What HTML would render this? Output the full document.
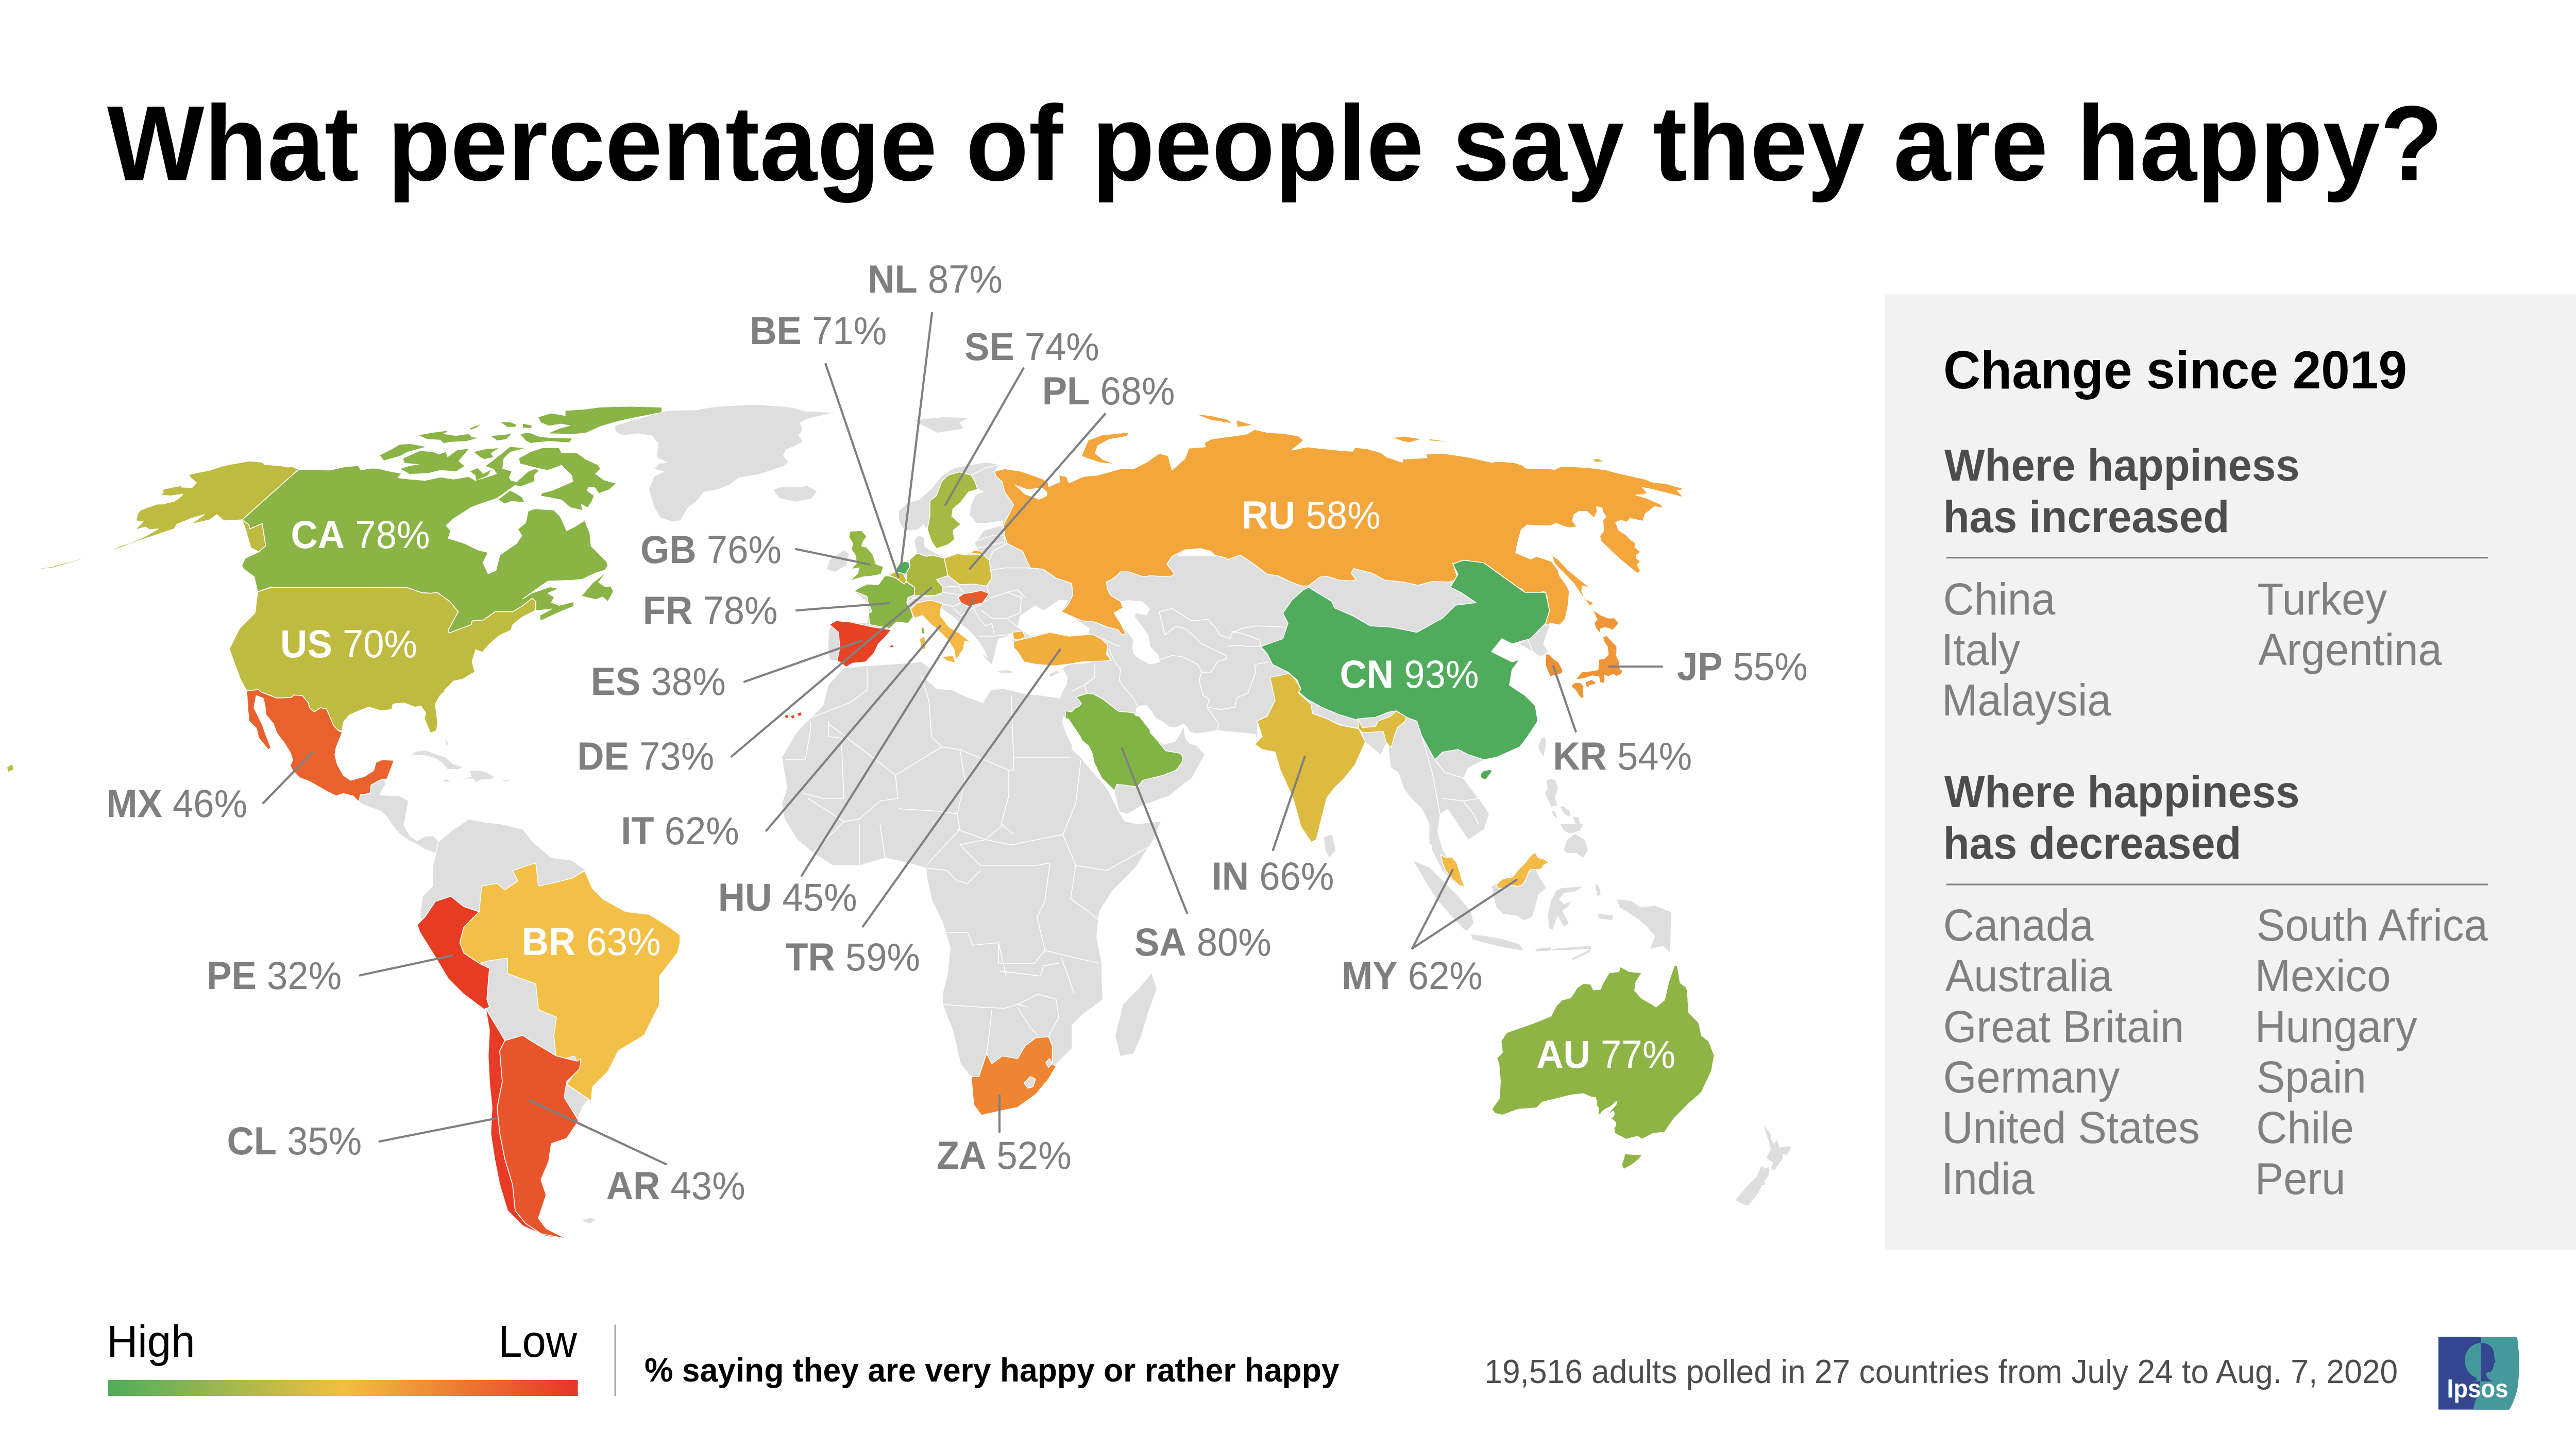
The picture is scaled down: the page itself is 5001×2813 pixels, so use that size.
<!DOCTYPE html>
<html><head><meta charset="utf-8"><style>
html,body{margin:0;padding:0;background:#fff;}
svg{display:block;font-family:"Liberation Sans",sans-serif;}
</style></head><body>
<svg width="5001" height="2813" viewBox="0 0 5001 2813" xmlns="http://www.w3.org/2000/svg">
<rect x="3659" y="571.5" width="1342" height="1855.5" fill="#f2f2f2"/>
<g id="map"><path d="M1193.8 826.2 L1225.0 817.5 L1255.0 808.8 L1295.0 797.5 L1350.0 796.2 L1387.5 790.0 L1425.0 787.5 L1475.0 786.2 L1537.5 791.2 L1562.5 798.8 L1617.5 801.2 L1567.5 812.5 L1552.5 820.0 L1557.5 835.0 L1550.0 845.0 L1557.5 857.5 L1545.0 865.0 L1525.0 872.5 L1520.0 885.0 L1530.0 897.5 L1520.0 905.0 L1475.0 920.0 L1432.5 927.5 L1417.5 940.0 L1392.5 950.0 L1365.0 955.0 L1352.5 972.5 L1335.0 985.0 L1320.0 1010.0 L1305.0 1012.5 L1282.5 1005.0 L1270.0 985.0 L1260.0 950.0 L1270.0 925.0 L1290.0 915.0 L1270.0 910.0 L1280.0 900.0 L1297.5 898.8 L1275.0 887.5 L1277.5 860.0 L1265.0 845.0 L1237.5 841.2 L1207.5 845.0 L1195.0 837.5Z" fill="#dedede"/>
<path d="M1502.5 950.0 L1520.0 945.0 L1545.0 946.2 L1567.5 943.8 L1585.0 953.8 L1575.0 967.5 L1545.0 973.8 L1515.0 967.5 L1505.0 957.5Z" fill="#dedede"/>
<path d="M1605.0 1105.0 L1610.0 1087.5 L1625.0 1077.5 L1637.5 1068.8 L1647.5 1075.0 L1642.5 1097.5 L1620.0 1110.0Z" fill="#dedede"/>
<path d="M1610.0 1220.0 L1622.5 1205.0 L1650.0 1207.5 L1682.5 1210.0 L1686.2 1190.0 L1685.0 1170.0 L1657.5 1147.5 L1683.8 1133.8 L1705.0 1135.0 L1717.5 1117.5 L1736.2 1110.0 L1745.0 1095.0 L1755.0 1090.0 L1765.0 1087.5 L1780.0 1073.8 L1775.0 1050.0 L1782.5 1040.0 L1792.5 1042.5 L1795.0 1062.5 L1832.5 1082.5 L1882.5 1073.8 L1900.0 1070.0 L1892.5 1055.0 L1910.0 1030.0 L1947.5 1020.0 L1945.0 1005.0 L1967.5 980.0 L2025.0 1005.0 L2075.0 1030.0 L2344.0 1030.0 L2244.0 1115.0 L2182.5 1110.0 L2162.5 1115.0 L2147.5 1130.0 L2147.5 1150.0 L2162.5 1160.0 L2180.0 1177.5 L2165.0 1187.5 L2170.0 1207.5 L2182.5 1232.5 L2150.0 1252.5 L2147.5 1270.0 L2157.5 1282.5 L2100.0 1285.0 L2070.0 1290.0 L2045.0 1292.5 L2012.5 1290.0 L1987.5 1285.0 L1975.0 1265.0 L1967.5 1257.5 L1965.0 1245.0 L1967.5 1227.5 L1955.0 1235.0 L1937.5 1240.0 L1932.5 1260.0 L1925.0 1290.0 L1912.5 1277.5 L1900.0 1260.0 L1887.5 1242.5 L1870.0 1225.0 L1850.0 1207.5 L1832.5 1187.5 L1825.0 1175.0 L1805.0 1165.0 L1780.0 1170.0 L1767.5 1182.5 L1772.5 1197.5 L1762.5 1210.0 L1740.0 1207.5 L1727.5 1220.0 L1730.0 1222.5 L1720.0 1235.0 L1705.0 1250.0 L1695.0 1270.0 L1680.0 1285.0 L1655.0 1287.5 L1642.5 1295.0 L1625.0 1282.5 L1610.0 1280.0 L1607.5 1250.0Z" fill="#dedede"/>
<path d="M1745.0 992.5 L1760.0 977.5 L1785.0 970.0 L1807.5 950.0 L1827.5 925.0 L1852.5 908.8 L1885.0 902.5 L1915.0 897.5 L1940.0 902.5 L1931.2 912.5 L1933.8 925.0 L1945.0 935.0 L1950.0 955.0 L1965.0 977.5 L1970.0 982.5 L1950.0 1002.5 L1947.5 1010.0 L1935.0 1012.5 L1915.0 1015.0 L1895.0 1015.0 L1882.5 1000.0 L1885.0 980.0 L1895.0 960.0 L1910.0 955.0 L1897.5 947.5 L1880.0 955.0 L1865.0 975.0 L1850.0 987.5 L1847.5 1002.5 L1865.0 1017.5 L1850.0 1030.0 L1852.5 1047.5 L1840.0 1057.5 L1830.0 1062.5 L1817.5 1065.0 L1807.5 1050.0 L1800.0 1027.5 L1792.5 1017.5 L1782.5 1027.5 L1765.0 1030.0 L1752.5 1025.0 L1745.0 1010.0Z" fill="#dedede"/>
<path d="M1775.0 815.0 L1805.0 812.5 L1830.0 810.0 L1880.0 811.2 L1862.5 820.0 L1870.0 832.5 L1850.0 835.0 L1820.0 840.0 L1800.0 830.0 L1785.0 822.5Z" fill="#dedede"/>
<path d="M2000.0 1080.0 L2644.0 1080.0 L2644.0 1412.5 L2612.5 1410.0 L2575.0 1395.0 L2547.5 1385.0 L2475.0 1380.0 L2450.0 1397.5 L2440.0 1405.0 L2440.0 1442.2 L2438.0 1425.0 L2363.0 1417.5 L2322.0 1423.8 L2308.8 1420.0 L2303.8 1410.0 L2297.5 1405.0 L2281.2 1412.5 L2268.8 1410.0 L2256.2 1400.0 L2243.8 1395.0 L2235.0 1380.0 L2225.0 1368.0 L2212.5 1370.0 L2205.0 1375.0 L2203.0 1395.0 L2171.2 1381.2 L2141.2 1357.5 L2122.5 1347.5 L2110.0 1346.2 L2088.8 1353.0 L2098.8 1365.0 L2095.0 1371.2 L2087.5 1373.8 L2080.0 1381.9 L2068.8 1380.0 L2067.5 1393.8 L2060.5 1385.0 L2058.8 1356.2 L2057.5 1355.0 L2062.5 1342.5 L2070.0 1330.0 L2072.5 1315.0 L2062.5 1297.5 L2075.0 1290.0 L2110.0 1287.5 L2140.0 1280.0 L2157.5 1282.5 L2147.5 1260.0 L2150.0 1252.5 L2140.0 1237.5 L2117.5 1227.5 L2115.0 1220.0 L2100.0 1205.0 L2082.5 1197.5 L2060.0 1187.5 L2072.5 1175.0 L2082.5 1155.0 L2080.0 1132.5 L2050.0 1122.5 L2025.0 1105.0 L2000.0 1102.5Z" fill="#dedede"/>
<path d="M2400.0 1050.0 L2900.0 1050.0 L2900.0 1190.0 L2835.0 1180.0 L2800.0 1210.0 L2750.0 1250.0 L2750.0 1400.0 L2720.0 1405.0 L2700.0 1420.0 L2680.0 1465.0 L2650.0 1440.0 L2635.0 1400.0 L2580.0 1395.0 L2545.0 1370.0 L2400.0 1350.0Z" fill="#dedede"/>
<path d="M2700.0 1420.0 L2720.0 1405.0 L2750.0 1400.0 L2760.0 1430.0 L2785.0 1475.0 L2800.0 1460.0 L2830.0 1455.0 L2850.0 1465.0 L2880.0 1475.0 L2850.0 1490.0 L2840.0 1510.0 L2870.0 1550.0 L2890.0 1580.0 L2880.0 1610.0 L2850.0 1630.0 L2830.0 1600.0 L2810.0 1570.0 L2795.0 1580.0 L2790.0 1615.0 L2800.0 1650.0 L2820.0 1680.0 L2840.0 1715.0 L2825.0 1715.0 L2800.0 1690.0 L2780.0 1650.0 L2775.0 1600.0 L2760.0 1570.0 L2740.0 1550.0 L2725.0 1530.0 L2715.0 1500.0 L2700.0 1490.0 L2695.0 1450.0Z" fill="#dedede"/>
<path d="M2067.5 1393.8 L2068.8 1380.0 L2080.0 1381.9 L2087.5 1373.8 L2095.0 1371.2 L2098.8 1365.0 L2088.8 1353.0 L2110.0 1346.2 L2122.5 1347.5 L2141.2 1357.5 L2171.2 1381.2 L2190.0 1382.5 L2211.2 1390.0 L2218.8 1400.0 L2232.5 1417.5 L2240.0 1430.0 L2247.5 1438.8 L2258.0 1446.0 L2281.2 1440.0 L2291.2 1425.0 L2297.5 1412.5 L2300.0 1432.5 L2308.8 1443.8 L2322.0 1447.5 L2338.0 1465.0 L2313.0 1510.0 L2268.0 1545.0 L2213.0 1565.0 L2188.0 1580.0 L2173.0 1575.0 L2163.0 1535.0 L2138.0 1510.0 L2123.8 1481.0 L2120.0 1462.5 L2112.5 1447.5 L2100.0 1437.5 L2097.5 1431.2 L2073.8 1396.2Z" fill="#dedede"/>
<path d="M1638.0 1297.5 L1688.0 1292.5 L1728.0 1290.0 L1768.0 1287.5 L1788.0 1285.0 L1808.0 1300.0 L1798.0 1320.0 L1818.0 1337.5 L1848.0 1340.0 L1868.0 1350.0 L1908.0 1365.0 L1923.0 1340.0 L1948.0 1337.5 L1988.0 1347.5 L2018.0 1350.0 L2058.8 1356.2 L2066.0 1361.0 L2063.8 1395.0 L2061.2 1400.0 L2068.8 1423.8 L2075.0 1436.2 L2080.0 1445.0 L2080.0 1455.0 L2095.0 1467.5 L2113.0 1490.0 L2148.0 1530.0 L2168.0 1570.0 L2183.0 1595.0 L2208.0 1600.0 L2253.0 1595.0 L2238.0 1630.0 L2203.0 1685.0 L2158.0 1730.0 L2133.0 1770.0 L2128.0 1820.0 L2138.0 1870.0 L2138.0 1900.0 L2140.0 1940.0 L2100.0 1970.0 L2080.0 1990.0 L2080.0 2035.0 L2050.0 2065.0 L2035.0 2090.0 L2000.0 2135.0 L1950.0 2155.0 L1905.0 2165.0 L1890.0 2145.0 L1885.0 2090.0 L1865.0 2065.0 L1850.0 2000.0 L1830.0 1950.0 L1830.0 1930.0 L1840.0 1890.0 L1845.0 1840.0 L1830.0 1790.0 L1810.0 1750.0 L1800.0 1705.0 L1798.0 1685.0 L1763.0 1675.0 L1718.0 1665.0 L1668.0 1680.0 L1618.0 1680.0 L1578.0 1655.0 L1548.0 1630.0 L1523.0 1590.0 L1518.0 1560.0 L1528.0 1530.0 L1523.0 1500.0 L1518.0 1470.0 L1548.0 1420.0 L1568.0 1400.0 L1598.0 1370.0 L1608.0 1330.0Z" fill="#dedede"/>
<path d="M2235.0 1890.0 L2245.0 1920.0 L2230.0 1960.0 L2215.0 2010.0 L2200.0 2045.0 L2175.0 2050.0 L2165.0 2010.0 L2180.0 1950.0 L2210.0 1920.0Z" fill="#dedede"/>
<path d="M2570.0 1625.0 L2585.0 1620.0 L2592.5 1650.0 L2580.0 1665.0 L2572.5 1650.0Z" fill="#dedede"/>
<path d="M2986.6 1445.2 L2992.9 1432.8 L2999.1 1431.2 L3000.6 1445.2 L2997.5 1460.7 L2996.0 1468.5 L2986.6 1454.5Z" fill="#dedede"/>
<path d="M3002.2 1515.1 L3011.5 1512.0 L3019.3 1515.1 L3023.9 1529.1 L3020.8 1539.9 L3017.7 1547.7 L3022.4 1563.2 L3011.5 1566.3 L3003.7 1550.8 L2999.1 1539.9 L3003.7 1532.2Z" fill="#dedede"/>
<path d="M3011.5 1574.1 L3017.7 1575.7 L3022.4 1585.0 L3020.8 1588.1 L3014.6 1581.9Z" fill="#dedede"/>
<path d="M3028.6 1564.8 L3036.3 1566.3 L3045.7 1574.1 L3048.8 1581.9 L3044.1 1585.0 L3033.2 1575.7Z" fill="#dedede"/>
<path d="M3053.4 1585.0 L3062.7 1586.5 L3067.4 1600.5 L3058.1 1600.5Z" fill="#dedede"/>
<path d="M2965.0 1240.0 L3000.0 1210.0 L3007.5 1215.0 L2995.0 1250.0 L3005.0 1265.0 L2990.0 1275.0 L2975.0 1265.0 L2950.0 1250.0Z" fill="#dedede"/>
<path d="M2743.5 1671.4 L2774.5 1683.9 L2805.6 1714.9 L2830.4 1739.8 L2855.3 1770.8 L2859.9 1792.5 L2846.0 1808.1 L2824.2 1786.3 L2802.5 1761.5 L2780.7 1733.5 L2762.1 1702.5Z" fill="#dedede"/>
<path d="M2855.3 1814.3 L2886.3 1817.4 L2917.4 1823.6 L2948.4 1832.9 L2957.8 1845.3 L2917.4 1839.1 L2880.1 1829.8 L2858.4 1823.6Z" fill="#dedede"/>
<path d="M2979.5 1842.2 L3010.6 1839.1 L3010.6 1845.3 L2982.6 1846.9Z" fill="#dedede"/>
<path d="M3010.6 1842.2 L3088.2 1836.0 L3088.2 1842.2 L3013.7 1845.3Z" fill="#dedede"/>
<path d="M3050.9 1860.9 L3088.2 1842.2 L3085.1 1848.4 L3054.0 1864.0Z" fill="#dedede"/>
<path d="M2895.7 1721.1 L2917.4 1708.7 L2948.4 1693.2 L2967.1 1687.0 L2979.5 1687.0 L2985.7 1699.4 L3001.2 1724.2 L2985.7 1736.6 L2979.5 1761.5 L2973.3 1780.1 L2957.8 1786.3 L2942.2 1777.0 L2917.4 1773.9 L2905.0 1761.5 L2898.8 1739.8Z" fill="#dedede"/>
<path d="M3004.3 1777.0 L3010.6 1749.1 L3019.9 1730.4 L3029.2 1724.2 L3072.7 1721.1 L3057.1 1730.4 L3035.4 1733.5 L3026.1 1746.0 L3035.4 1755.3 L3050.9 1749.1 L3041.6 1761.5 L3032.3 1767.7 L3044.7 1792.5 L3035.4 1798.8 L3023.0 1777.0 L3013.7 1805.0 L3007.5 1801.9Z" fill="#dedede"/>
<path d="M3035.4 1649.7 L3041.6 1631.1 L3057.1 1618.6 L3075.8 1631.1 L3082.0 1649.7 L3072.7 1665.2 L3060.2 1655.9 L3041.6 1655.9Z" fill="#dedede"/>
<path d="M3029.2 1600.0 L3072.7 1600.0 L3066.5 1612.4 L3047.8 1618.6 L3035.4 1612.4Z" fill="#dedede"/>
<path d="M3137.9 1746.0 L3165.8 1749.1 L3184.5 1761.5 L3212.4 1758.4 L3243.5 1770.8 L3241.9 1848.4 L3228.0 1836.0 L3203.1 1842.2 L3212.4 1817.4 L3196.9 1798.8 L3178.3 1783.2 L3159.6 1770.8 L3144.1 1761.5Z" fill="#dedede"/>
<path d="M3100.6 1773.9 L3131.7 1777.0 L3128.6 1786.3 L3103.7 1783.2Z" fill="#dedede"/>
<path d="M3097.5 1714.9 L3103.7 1721.1 L3106.8 1736.6 L3100.6 1739.8 L3097.5 1724.2Z" fill="#dedede"/>
<path d="M2774.5 1600.0 L2780.7 1628.0 L2787.0 1640.4 L2802.5 1659.0 L2793.2 1655.9 L2774.5 1637.3Z" fill="#dedede"/>
<path d="M3423.6 2184.6 L3427.9 2189.7 L3436.5 2201.8 L3438.2 2212.2 L3443.4 2220.8 L3448.6 2212.2 L3453.8 2227.7 L3472.7 2225.1 L3476.2 2228.6 L3468.4 2242.4 L3460.7 2239.8 L3459.8 2250.1 L3443.4 2272.6 L3437.4 2267.4 L3441.7 2257.0 L3431.3 2250.1 L3429.6 2245.0 L3437.4 2231.1Z" fill="#dedede"/>
<path d="M3368.3 2329.5 L3379.6 2315.7 L3396.8 2296.7 L3410.6 2282.9 L3417.5 2265.7 L3422.7 2263.9 L3422.7 2269.1 L3433.0 2265.7 L3434.8 2270.8 L3433.0 2281.2 L3424.4 2293.3 L3427.0 2299.3 L3420.1 2300.2 L3414.1 2314.0 L3395.1 2339.0 L3385.6 2339.0Z" fill="#dedede"/>
<path d="M1975.0 1217.5 L1980.0 1195.0 L2010.0 1175.0 L2025.0 1185.0 L2045.0 1172.5 L2067.5 1167.5 L2060.0 1185.0 L2085.0 1200.0 L2115.0 1220.0 L2112.5 1235.0 L2075.0 1235.0 L2037.5 1227.5 L2000.0 1235.0 L1985.0 1225.0Z" fill="#ffffff"/>
<path d="M1830.0 1182.5 L1847.5 1195.0 L1865.0 1210.0 L1885.0 1227.5 L1900.0 1245.0 L1912.5 1265.0 L1917.5 1277.5 L1905.0 1267.5 L1887.5 1252.5 L1870.0 1240.0 L1850.0 1222.5 L1835.0 1205.0 L1825.0 1190.0Z" fill="#ffffff"/>
<path d="M2162.5 1192.5 L2175.0 1167.5 L2190.0 1165.0 L2217.5 1167.5 L2232.5 1182.5 L2225.0 1195.0 L2205.0 1190.0 L2202.5 1197.5 L2220.0 1220.0 L2230.0 1235.0 L2232.5 1255.0 L2247.5 1270.0 L2252.5 1285.0 L2232.5 1290.0 L2212.5 1280.0 L2200.0 1270.0 L2197.5 1255.0 L2200.0 1242.5 L2190.0 1230.0 L2175.0 1212.5Z" fill="#ffffff"/>
<path d="M2040.0 1175.0 L2055.0 1165.0 L2072.5 1165.0 L2067.5 1180.0 L2055.0 1185.0Z" fill="#ffffff"/>
<path d="M1967.5 940.0 L1995.0 950.0 L2022.5 946.2 L2032.5 955.0 L2032.5 962.5 L2017.5 970.0 L1990.0 960.0Z" fill="#ffffff"/>
<path d="M1130.0 2370.0 L1145.0 2364.0 L1156.0 2368.0 L1145.0 2375.0Z" fill="#dedede"/>
<path d="M2035.0 1310.0 L2050.0 1302.5 L2057.5 1305.0 L2040.0 1313.8Z" fill="#dedede"/>
<path d="M1935.0 1302.5 L1955.0 1301.2 L1967.5 1305.0 L1945.0 1307.5Z" fill="#dedede"/>
<path d="M2250.0 1187.5 L2275.0 1181.2 L2312.5 1205.0 L2345.0 1202.5 L2360.0 1220.0 L2367.5 1232.5 L2387.5 1240.0 L2390.0 1230.0 L2410.0 1220.0 L2437.5 1215.0 L2497.5 1217.5" fill="none" stroke="#fff" stroke-width="1.6" stroke-linejoin="round"/>
<path d="M2261.2 1232.5 L2282.5 1216.2 L2300.0 1220.0 L2317.5 1235.0 L2332.5 1250.0 L2380.0 1272.5 L2380.0 1280.0" fill="none" stroke="#fff" stroke-width="1.6" stroke-linejoin="round"/>
<path d="M2250.0 1187.5 L2261.2 1232.5" fill="none" stroke="#fff" stroke-width="1.6" stroke-linejoin="round"/>
<path d="M2252.5 1280.0 L2275.0 1272.5 L2295.0 1275.0 L2325.0 1290.0 L2332.5 1305.0 L2350.0 1305.0 L2365.0 1282.5 L2380.0 1280.0" fill="none" stroke="#fff" stroke-width="1.6" stroke-linejoin="round"/>
<path d="M2332.5 1305.0 L2327.5 1320.0 L2335.0 1350.0 L2347.5 1357.5 L2342.5 1372.5 L2370.0 1377.5 L2397.5 1372.5 L2400.0 1355.0 L2422.5 1345.0 L2430.0 1325.0 L2437.5 1305.0 L2435.0 1290.0 L2462.5 1285.0" fill="none" stroke="#fff" stroke-width="1.6" stroke-linejoin="round"/>
<path d="M2382.5 1255.0 L2400.0 1252.5 L2425.0 1255.0 L2447.5 1255.0 L2445.0 1242.5 L2412.5 1230.0 L2390.0 1225.0" fill="none" stroke="#fff" stroke-width="1.6" stroke-linejoin="round"/>
<path d="M2342.5 1372.5 L2355.0 1390.0 L2365.0 1405.0 L2357.5 1442.2" fill="none" stroke="#fff" stroke-width="1.6" stroke-linejoin="round"/>
<path d="M2152.5 1260.0 L2162.5 1282.5 L2175.0 1300.0 L2172.5 1320.0 L2180.0 1332.5 L2200.0 1355.0 L2210.0 1375.0" fill="none" stroke="#fff" stroke-width="1.6" stroke-linejoin="round"/>
<path d="M2125.0 1287.5 L2125.0 1315.0 L2105.0 1330.0 L2080.0 1342.5" fill="none" stroke="#fff" stroke-width="1.6" stroke-linejoin="round"/>
<path d="M2105.0 1330.0 L2110.0 1345.0" fill="none" stroke="#fff" stroke-width="1.6" stroke-linejoin="round"/>
<path d="M2140.0 1240.0 L2160.0 1250.0 L2175.0 1255.0" fill="none" stroke="#fff" stroke-width="1.6" stroke-linejoin="round"/>
<path d="M1760.0 1170.0 L1775.0 1160.0 L1815.0 1156.2 L1830.0 1150.0 L1865.0 1155.0" fill="none" stroke="#fff" stroke-width="1.6" stroke-linejoin="round"/>
<path d="M1817.5 1125.0 L1830.0 1140.0 L1860.0 1137.5 L1870.0 1150.0" fill="none" stroke="#fff" stroke-width="1.6" stroke-linejoin="round"/>
<path d="M1920.0 1152.5 L1915.0 1137.5" fill="none" stroke="#fff" stroke-width="1.6" stroke-linejoin="round"/>
<path d="M1830.0 1172.5 L1850.0 1177.5 L1865.0 1170.0" fill="none" stroke="#fff" stroke-width="1.6" stroke-linejoin="round"/>
<path d="M1850.0 1180.0 L1865.0 1195.0 L1890.0 1180.0 L1905.0 1172.5" fill="none" stroke="#fff" stroke-width="1.6" stroke-linejoin="round"/>
<path d="M1890.0 1180.0 L1900.0 1200.0 L1912.5 1215.0 L1925.0 1210.0 L1930.0 1232.5" fill="none" stroke="#fff" stroke-width="1.6" stroke-linejoin="round"/>
<path d="M1907.5 1170.0 L1925.0 1160.0 L1955.0 1150.0 L1982.5 1160.0 L1980.0 1190.0 L1955.0 1200.0 L1925.0 1200.0 L1905.0 1185.0" fill="none" stroke="#fff" stroke-width="1.6" stroke-linejoin="round"/>
<path d="M1955.0 1200.0 L1975.0 1217.5" fill="none" stroke="#fff" stroke-width="1.6" stroke-linejoin="round"/>
<path d="M1927.5 1235.0 L1955.0 1232.5 L1965.0 1230.0" fill="none" stroke="#fff" stroke-width="1.6" stroke-linejoin="round"/>
<path d="M1900.0 1235.0 L1927.5 1235.0" fill="none" stroke="#fff" stroke-width="1.6" stroke-linejoin="round"/>
<path d="M1920.0 1107.5 L1950.0 1102.5 L1995.0 1102.5 L2017.5 1105.0" fill="none" stroke="#fff" stroke-width="1.6" stroke-linejoin="round"/>
<path d="M1955.0 1150.0 L1975.0 1145.0 L1990.0 1160.0" fill="none" stroke="#fff" stroke-width="1.6" stroke-linejoin="round"/>
<path d="M1920.0 1087.5 L1927.5 1070.0 L1955.0 1055.0" fill="none" stroke="#fff" stroke-width="1.6" stroke-linejoin="round"/>
<path d="M1895.0 1065.0 L1925.0 1057.5 L1950.0 1052.5" fill="none" stroke="#fff" stroke-width="1.6" stroke-linejoin="round"/>
<path d="M1895.0 1050.0 L1925.0 1040.0 L1950.0 1040.0" fill="none" stroke="#fff" stroke-width="1.6" stroke-linejoin="round"/>
<path d="M1885.0 922.5 L1915.0 907.5 L1940.0 902.5" fill="none" stroke="#fff" stroke-width="1.6" stroke-linejoin="round"/>
<path d="M1683.0 1295.0 L1683.0 1340.0 L1648.0 1365.0 L1608.0 1380.0 L1558.0 1400.0" fill="none" stroke="#fff" stroke-width="1.6" stroke-linejoin="round"/>
<path d="M1573.0 1400.0 L1573.0 1420.0 L1563.0 1475.0 L1523.0 1475.0" fill="none" stroke="#fff" stroke-width="1.6" stroke-linejoin="round"/>
<path d="M1608.0 1400.0 L1608.0 1430.0 L1633.0 1432.5 L1638.0 1550.0 L1598.0 1550.0 L1558.0 1540.0" fill="none" stroke="#fff" stroke-width="1.6" stroke-linejoin="round"/>
<path d="M1788.0 1310.0 L1803.0 1360.0 L1808.0 1430.0 L1828.0 1450.0" fill="none" stroke="#fff" stroke-width="1.6" stroke-linejoin="round"/>
<path d="M1608.0 1405.0 L1713.0 1485.0 L1738.0 1505.0 L1828.0 1450.0 L1863.0 1455.0" fill="none" stroke="#fff" stroke-width="1.6" stroke-linejoin="round"/>
<path d="M1963.0 1350.0 L1968.0 1495.0" fill="none" stroke="#fff" stroke-width="1.6" stroke-linejoin="round"/>
<path d="M1863.0 1455.0 L1958.0 1495.0 L1968.0 1495.0" fill="none" stroke="#fff" stroke-width="1.6" stroke-linejoin="round"/>
<path d="M1968.0 1470.0 L2078.0 1470.0" fill="none" stroke="#fff" stroke-width="1.6" stroke-linejoin="round"/>
<path d="M1958.0 1495.0 L1958.0 1545.0 L1943.0 1600.0 L1968.0 1620.0" fill="none" stroke="#fff" stroke-width="1.6" stroke-linejoin="round"/>
<path d="M1738.0 1505.0 L1743.0 1550.0 L1708.0 1555.0 L1668.0 1590.0 L1638.0 1595.0 L1608.0 1575.0 L1568.0 1550.0" fill="none" stroke="#fff" stroke-width="1.6" stroke-linejoin="round"/>
<path d="M1743.0 1570.0 L1823.0 1575.0 L1858.0 1580.0" fill="none" stroke="#fff" stroke-width="1.6" stroke-linejoin="round"/>
<path d="M1863.0 1455.0 L1873.0 1515.0 L1858.0 1580.0" fill="none" stroke="#fff" stroke-width="1.6" stroke-linejoin="round"/>
<path d="M1858.0 1580.0 L1863.0 1610.0 L1798.0 1680.0" fill="none" stroke="#fff" stroke-width="1.6" stroke-linejoin="round"/>
<path d="M1858.0 1610.0 L1913.0 1630.0 L1948.0 1600.0" fill="none" stroke="#fff" stroke-width="1.6" stroke-linejoin="round"/>
<path d="M1863.0 1640.0 L1913.0 1630.0 L1963.0 1640.0 L2013.0 1630.0 L2063.0 1620.0 L2088.0 1560.0 L2098.0 1475.0" fill="none" stroke="#fff" stroke-width="1.6" stroke-linejoin="round"/>
<path d="M1863.0 1640.0 L1903.0 1680.0 L2013.0 1680.0 L2038.0 1675.0" fill="none" stroke="#fff" stroke-width="1.6" stroke-linejoin="round"/>
<path d="M2063.0 1620.0 L2088.0 1680.0 L2148.0 1690.0 L2228.0 1645.0" fill="none" stroke="#fff" stroke-width="1.6" stroke-linejoin="round"/>
<path d="M2088.0 1680.0 L2078.0 1745.0 L2113.0 1770.0 L2138.0 1790.0" fill="none" stroke="#fff" stroke-width="1.6" stroke-linejoin="round"/>
<path d="M1798.0 1685.0 L1838.0 1690.0 L1858.0 1710.0 L1878.0 1715.0 L1903.0 1690.0" fill="none" stroke="#fff" stroke-width="1.6" stroke-linejoin="round"/>
<path d="M1833.0 1810.0 L1878.0 1810.0 L1888.0 1835.0 L1938.0 1830.0 L1953.0 1895.0" fill="none" stroke="#fff" stroke-width="1.6" stroke-linejoin="round"/>
<path d="M1938.0 1830.0 L1938.0 1870.0 L2008.0 1870.0 L2028.0 1845.0" fill="none" stroke="#fff" stroke-width="1.6" stroke-linejoin="round"/>
<path d="M2028.0 1845.0 L2068.0 1855.0 L2133.0 1870.0" fill="none" stroke="#fff" stroke-width="1.6" stroke-linejoin="round"/>
<path d="M2038.0 1675.0 L2028.0 1750.0 L2013.0 1780.0 L2028.0 1845.0" fill="none" stroke="#fff" stroke-width="1.6" stroke-linejoin="round"/>
<path d="M1578.0 1655.0 L1608.0 1625.0 L1638.0 1595.0" fill="none" stroke="#fff" stroke-width="1.6" stroke-linejoin="round"/>
<path d="M1668.0 1680.0 L1668.0 1600.0" fill="none" stroke="#fff" stroke-width="1.6" stroke-linejoin="round"/>
<path d="M1718.0 1665.0 L1708.0 1600.0" fill="none" stroke="#fff" stroke-width="1.6" stroke-linejoin="round"/>
<path d="M1830.0 1950.0 L1900.0 1955.0 L1950.0 1957.5 L1975.0 1950.0 L1995.0 1955.0" fill="none" stroke="#fff" stroke-width="1.6" stroke-linejoin="round"/>
<path d="M1925.0 1960.0 L1920.0 2010.0 L1915.0 2045.0" fill="none" stroke="#fff" stroke-width="1.6" stroke-linejoin="round"/>
<path d="M1975.0 1955.0 L2000.0 1995.0 L2015.0 2010.0" fill="none" stroke="#fff" stroke-width="1.6" stroke-linejoin="round"/>
<path d="M1975.0 1950.0 L2015.0 1930.0 L2050.0 1940.0" fill="none" stroke="#fff" stroke-width="1.6" stroke-linejoin="round"/>
<path d="M2050.0 1940.0 L2055.0 1975.0 L2035.0 2012.5" fill="none" stroke="#fff" stroke-width="1.6" stroke-linejoin="round"/>
<path d="M1940.0 1885.0 L2020.0 1895.0 L2025.0 1875.0 L2055.0 1870.0" fill="none" stroke="#fff" stroke-width="1.6" stroke-linejoin="round"/>
<path d="M2060.0 1860.0 L2075.0 1900.0 L2085.0 1930.0" fill="none" stroke="#fff" stroke-width="1.6" stroke-linejoin="round"/>
<path d="M900.0 1590.0 L910.0 1625.0 L930.0 1650.0 L955.0 1660.0 L960.0 1700.0 L965.0 1715.0" fill="none" stroke="#fff" stroke-width="1.6" stroke-linejoin="round"/>
<path d="M1035.0 1635.0 L1030.0 1660.0 L1045.0 1675.0" fill="none" stroke="#fff" stroke-width="1.6" stroke-linejoin="round"/>
<path d="M1065.0 1665.0 L1070.0 1705.0" fill="none" stroke="#fff" stroke-width="1.6" stroke-linejoin="round"/>
<path d="M1105.0 1670.0 L1110.0 1700.0" fill="none" stroke="#fff" stroke-width="1.6" stroke-linejoin="round"/>
<path d="M815.0 1745.0 L835.0 1725.0 L870.0 1740.0" fill="none" stroke="#fff" stroke-width="1.6" stroke-linejoin="round"/>
<path d="M720.0 1525.0 L725.0 1545.0" fill="none" stroke="#fff" stroke-width="1.6" stroke-linejoin="round"/>
<path d="M750.0 1540.0 L760.0 1565.0 L780.0 1590.0" fill="none" stroke="#fff" stroke-width="1.6" stroke-linejoin="round"/>
<path d="M2760.0 1430.0 L2780.0 1500.0 L2795.0 1580.0" fill="none" stroke="#fff" stroke-width="1.6" stroke-linejoin="round"/>
<path d="M2785.0 1475.0 L2805.0 1500.0 L2840.0 1510.0 L2870.0 1550.0" fill="none" stroke="#fff" stroke-width="1.6" stroke-linejoin="round"/>
<path d="M2800.0 1550.0 L2840.0 1555.0 L2870.0 1550.0" fill="none" stroke="#fff" stroke-width="1.6" stroke-linejoin="round"/>
<path d="M2840.0 1555.0 L2860.0 1580.0 L2870.0 1600.0" fill="none" stroke="#fff" stroke-width="1.6" stroke-linejoin="round"/>
<path d="M2965.0 1240.0 L2975.0 1265.0 L2990.0 1275.0" fill="none" stroke="#fff" stroke-width="1.6" stroke-linejoin="round"/>
<path d="M579.6 911.1 L567.6 905.9 L558.9 906.7 L545.1 904.2 L514.1 901.6 L508.9 897.3 L483.0 894.7 L465.7 898.1 L445.0 901.6 L431.2 905.0 L407.1 912.8 L384.6 917.1 L365.7 921.4 L370.8 928.3 L381.2 936.9 L372.6 946.4 L351.9 945.6 L357.0 942.1 L334.6 945.6 L313.9 950.8 L317.3 955.9 L310.4 961.1 L331.1 962.8 L355.3 959.4 L348.4 966.3 L338.1 973.2 L315.6 978.4 L305.3 978.4 L286.3 985.3 L272.5 990.4 L267.3 997.3 L263.8 1011.1 L277.7 1012.9 L262.1 1028.4 L282.8 1023.2 L289.7 1028.4 L307.0 1026.7 L286.3 1038.8 L272.5 1045.7 L251.8 1054.3 L234.5 1059.5 L217.3 1066.4 L205.2 1071.5 L100.0 1100.0 L35.0 1110.0 L105.0 1102.0 L234.5 1062.9 L267.3 1050.8 L312.2 1035.3 L338.1 1026.7 L343.2 1018.1 L372.6 1006.0 L396.7 999.1 L369.1 1018.1 L407.1 1009.4 L420.9 999.1 L434.7 1011.1 L469.2 1009.4 L472.6 1016.3 L477.8 1031.9 L486.5 1062.9 L502.0 1071.5 L515.8 1059.5 L508.9 1016.3 L484.7 1026.7 L483.0 1018.1 L470.1 1009.1Z" fill="#bfba40" stroke="#fff" stroke-width="1.6" stroke-linejoin="round"/>
<path d="M580.0 911.0 L640.0 912.5 L670.0 906.0 L695.0 904.0 L701.0 912.5 L717.5 909.0 L732.5 909.0 L752.5 914.0 L780.0 919.0 L772.5 927.5 L795.0 930.0 L825.0 932.5 L855.0 926.0 L880.0 930.0 L910.0 925.0 L922.5 932.5 L940.0 927.5 L962.5 920.0 L972.5 910.0 L985.0 920.0 L992.5 932.5 L1002.5 935.0 L1025.0 915.0 L1037.5 910.0 L1047.5 912.5 L1037.5 922.5 L1037.5 935.0 L1010.0 945.0 L1000.0 942.5 L965.0 967.5 L935.0 977.5 L915.0 985.0 L880.0 1007.5 L866.0 1020.0 L875.0 1030.0 L870.0 1045.0 L902.5 1055.0 L927.5 1067.5 L947.5 1072.5 L937.5 1092.5 L947.5 1113.8 L962.5 1107.5 L970.0 1077.5 L987.5 1065.0 L1002.5 1055.0 L1012.5 1040.0 L1005.0 1027.5 L1020.0 1015.0 L1025.0 992.5 L1037.5 987.5 L1075.0 990.0 L1087.5 1002.5 L1100.0 1030.0 L1115.0 1022.5 L1135.0 1010.0 L1145.0 1035.0 L1147.5 1060.0 L1165.0 1077.5 L1177.5 1090.0 L1180.1 1097.9 L1174.7 1106.9 L1156.7 1112.3 L1129.8 1124.9 L1111.9 1126.6 L1063.5 1128.4 L1052.7 1135.6 L1015.0 1162.5 L1031.2 1151.8 L1067.0 1139.2 L1085.0 1142.8 L1063.5 1151.8 L1076.0 1158.9 L1070.6 1169.7 L1085.0 1175.1 L1113.7 1167.9 L1113.7 1176.9 L1079.6 1191.2 L1049.1 1205.6 L1047.3 1194.8 L1070.6 1182.3 L1040.1 1185.8 L1040.1 1167.9 L1033.0 1161.6 L1013.2 1176.9 L995.3 1187.6 L961.2 1187.6 L937.9 1203.8 L916.3 1205.6 L914.6 1212.8 L871.5 1228.9 L869.7 1223.5 L889.4 1187.6 L873.3 1167.9 L848.2 1150.0 L837.4 1151.8 L819.5 1150.9 L790.8 1141.0 L780.0 1141.0 L525.0 1140.0 L500.0 1149.0 L493.4 1119.9 L472.6 1104.3 L469.2 1097.4 L476.1 1083.6 L502.0 1071.5 L515.8 1059.5 L508.9 1016.3 L484.7 1026.7 L483.0 1018.1 L470.1 1009.1Z" fill="#8ab446" stroke="#fff" stroke-width="1.6" stroke-linejoin="round"/>
<path d="M737.5 883.8 L757.5 873.8 L776.2 863.0 L797.5 862.0 L826.2 867.5 L790.0 877.5 L776.2 885.0 L745.0 893.8Z" fill="#8ab446"/>
<path d="M782.5 890.0 L815.0 875.5 L840.0 877.5 L852.5 882.0 L865.0 877.5 L868.8 887.5 L887.5 873.8 L910.0 871.2 L890.0 895.0 L901.2 905.0 L885.0 915.0 L855.0 912.5 L830.0 918.8 L795.0 920.0 L777.5 910.0 L795.0 904.5 L815.0 901.2 L785.0 898.8Z" fill="#8ab446"/>
<path d="M920.0 877.5 L940.0 872.5 L967.5 870.0 L952.5 880.0 L957.5 887.5 L940.0 891.2 L932.5 887.5Z" fill="#8ab446"/>
<path d="M912.5 915.0 L927.5 908.8 L937.5 920.0 L952.5 912.5 L947.5 922.5 L925.0 932.5 L922.5 922.5Z" fill="#8ab446"/>
<path d="M942.5 905.0 L975.0 880.0 L990.0 867.5 L1017.5 870.0 L990.0 877.5 L977.5 890.0 L975.0 910.0 L992.5 915.0 L985.0 935.0 L965.0 920.0 L957.5 910.0Z" fill="#8ab446"/>
<path d="M812.5 845.0 L840.0 840.0 L870.0 836.2 L860.0 842.5 L885.0 846.2 L910.0 842.5 L915.0 848.8 L927.5 850.0 L905.0 856.2 L877.5 857.5 L860.0 860.0 L855.0 853.8 L830.0 852.5Z" fill="#8ab446"/>
<path d="M952.5 846.2 L970.0 845.0 L992.5 842.5 L982.5 852.5 L965.0 855.0Z" fill="#8ab446"/>
<path d="M1010.0 842.5 L1027.5 840.0 L1045.0 847.5 L1065.0 850.0 L1110.0 851.2 L1105.0 858.8 L1065.0 856.2 L1030.0 860.0 L1020.0 855.0Z" fill="#8ab446"/>
<path d="M1045.0 810.0 L1070.0 802.5 L1097.5 807.5 L1097.5 797.5 L1135.0 795.0 L1162.5 791.2 L1190.0 790.0 L1227.5 789.5 L1284.0 791.2 L1284.0 800.0 L1252.5 806.2 L1215.0 813.8 L1190.0 820.0 L1165.0 827.5 L1137.5 840.0 L1112.5 842.5 L1065.0 841.2 L1085.0 832.5 L1107.5 826.2 L1090.0 822.5 L1065.0 826.2 L1050.0 820.0Z" fill="#8ab446"/>
<path d="M972.5 820.0 L990.0 819.5 L1002.5 825.0 L1000.0 828.8 L985.0 828.8Z" fill="#8ab446"/>
<path d="M1015.0 822.5 L1032.5 826.2 L1030.0 831.2 L1015.0 830.0Z" fill="#8ab446"/>
<path d="M910.0 832.5 L932.5 823.8 L925.0 830.0 L915.0 833.8Z" fill="#8ab446"/>
<path d="M1007.5 890.0 L1030.0 877.5 L1052.5 870.0 L1085.0 870.0 L1090.0 880.0 L1120.0 880.0 L1137.5 892.5 L1160.0 902.5 L1165.0 910.0 L1155.0 920.0 L1172.5 932.5 L1195.0 938.8 L1182.5 950.0 L1162.5 957.5 L1155.0 946.2 L1142.5 945.0 L1138.8 952.5 L1152.5 962.5 L1147.5 975.0 L1140.0 985.0 L1127.5 977.5 L1130.0 990.0 L1107.5 985.0 L1090.0 970.0 L1065.0 965.0 L1050.0 962.5 L1052.5 957.5 L1072.5 952.5 L1090.0 945.0 L1112.5 935.0 L1110.0 922.5 L1090.0 902.5 L1077.5 907.5 L1062.5 912.5 L1040.0 907.5 L1010.0 900.0Z" fill="#8ab446"/>
<path d="M967.5 970.0 L990.0 952.5 L1000.0 957.5 L1012.5 965.0 L1017.5 975.0 L992.5 972.5 L980.0 977.5Z" fill="#8ab446"/>
<path d="M1128.0 1157.1 L1149.6 1132.0 L1176.5 1110.5 L1162.1 1130.2 L1174.7 1139.2 L1185.5 1137.4 L1190.8 1148.2 L1180.1 1167.9 L1169.3 1158.9 L1156.7 1164.3Z" fill="#8ab446" stroke="#fff" stroke-width="1.6" stroke-linejoin="round"/>
<path d="M525.0 1141.0 L780.0 1141.0 L790.8 1141.0 L819.5 1150.9 L837.4 1151.8 L848.2 1150.0 L873.3 1167.9 L889.4 1187.6 L869.7 1223.5 L871.5 1228.9 L914.6 1212.8 L916.3 1205.6 L937.9 1203.8 L961.2 1187.6 L995.3 1187.6 L1013.2 1176.9 L1033.0 1161.6 L1040.1 1167.9 L1038.3 1185.8 L1013.2 1198.4 L995.3 1212.8 L991.7 1223.5 L968.4 1234.3 L948.6 1252.2 L936.1 1266.6 L923.5 1261.2 L916.3 1284.5 L921.7 1304.3 L898.4 1318.6 L880.5 1322.2 L862.5 1340.0 L880.1 1324.7 L854.3 1350.5 L844.9 1366.9 L849.6 1402.1 L847.2 1418.6 L835.5 1423.3 L823.8 1395.1 L826.1 1383.4 L816.7 1370.5 L805.0 1372.8 L783.9 1364.6 L762.7 1366.9 L760.4 1377.5 L739.3 1379.8 L715.8 1372.8 L694.7 1381.0 L678.3 1388.1 L666.5 1402.1 L664.2 1418.6 L657.1 1418.6 L647.7 1409.2 L633.7 1376.3 L621.9 1374.0 L610.2 1382.2 L600.8 1374.0 L598.5 1364.6 L586.7 1350.5 L570.3 1349.3 L565.6 1354.0 L537.4 1355.2 L506.9 1343.5 L502.2 1338.8 L478.8 1341.1 L467.0 1320.0 L445.0 1260.0 L465.0 1220.0 L495.0 1190.0 L500.0 1149.0Z" fill="#bfba40" stroke="#fff" stroke-width="1.6" stroke-linejoin="round"/>
<path d="M478.8 1341.1 L502.2 1338.8 L506.9 1343.5 L537.4 1355.2 L565.6 1354.0 L570.3 1349.3 L586.7 1350.5 L598.5 1364.6 L600.8 1374.0 L610.2 1382.2 L621.9 1374.0 L633.7 1376.3 L647.7 1409.2 L657.1 1418.6 L664.2 1422.1 L652.4 1451.4 L650.1 1465.5 L654.8 1484.3 L666.5 1505.4 L680.6 1514.8 L706.4 1507.7 L725.2 1496.0 L729.9 1479.6 L741.6 1474.9 L765.1 1476.1 L758.1 1493.7 L751.0 1512.4 L736.9 1514.8 L720.5 1524.2 L718.2 1540.6 L699.4 1543.0 L697.0 1557.0 L685.3 1545.3 L666.5 1540.6 L652.4 1545.3 L633.7 1535.9 L600.8 1517.1 L582.0 1510.1 L568.0 1496.0 L563.3 1486.6 L568.0 1474.9 L563.3 1460.8 L551.5 1442.0 L537.4 1423.3 L530.4 1404.5 L516.3 1388.1 L514.0 1366.9 L510.5 1355.2 L497.5 1350.5 L492.9 1374.0 L509.3 1406.8 L514.0 1420.9 L525.7 1451.4 L521.0 1456.1 L502.2 1432.6 L497.5 1413.9 L483.5 1399.8 L481.1 1378.7Z" fill="#e9622d" stroke="#fff" stroke-width="1.6" stroke-linejoin="round"/>
<path d="M699.4 1543.0 L718.2 1540.6 L720.5 1524.2 L736.9 1514.8 L746.3 1512.4 L748.7 1521.8 L736.9 1543.0 L755.7 1544.1 L776.8 1545.3 L793.3 1554.7 L788.6 1578.2 L783.9 1601.6 L795.6 1622.7 L809.7 1632.1 L826.1 1622.7 L840.2 1622.7 L854.3 1634.5 L859.0 1643.9 L854.3 1660.1 L823.8 1648.6 L809.7 1639.2 L793.3 1632.1 L772.1 1615.7 L762.7 1604.0 L748.7 1582.8 L736.9 1573.5 L722.8 1568.8 L704.1 1561.7 L697.0 1557.0Z" fill="#dedede" stroke="#fff" stroke-width="1.6" stroke-linejoin="round"/>
<path d="M795.6 1465.5 L807.3 1458.5 L826.1 1456.1 L844.9 1463.2 L866.0 1470.2 L877.7 1481.9 L898.9 1489.0 L889.5 1493.7 L868.4 1493.7 L859.0 1481.9 L844.9 1472.5 L823.8 1466.7 L807.3 1466.7Z" fill="#dedede" stroke="#fff" stroke-width="1.6" stroke-linejoin="round"/>
<path d="M910.6 1496.0 L927.0 1494.8 L943.5 1498.4 L959.9 1507.7 L955.2 1512.4 L929.4 1514.8 L924.7 1519.5 L917.6 1512.4 L898.9 1512.4 L896.5 1510.1 L915.3 1507.7Z" fill="#dedede" stroke="#fff" stroke-width="1.6" stroke-linejoin="round"/>
<path d="M856.6 1513.6 L868.4 1512.4 L875.4 1518.3 L863.7 1518.3Z" fill="#dedede" stroke="#fff" stroke-width="1.6" stroke-linejoin="round"/>
<path d="M974.0 1513.6 L988.0 1513.6 L990.4 1517.1 L976.3 1517.1Z" fill="#dedede" stroke="#fff" stroke-width="1.6" stroke-linejoin="round"/>
<path d="M863.7 1432.6 L868.4 1437.3 L870.7 1446.7 L866.0 1446.7Z" fill="#dedede" stroke="#fff" stroke-width="1.6" stroke-linejoin="round"/>
<path d="M850.0 1635.0 L880.0 1610.0 L910.0 1590.0 L935.0 1595.0 L975.0 1600.0 L1015.0 1610.0 L1035.0 1635.0 L1070.0 1665.0 L1110.0 1670.0 L1135.0 1687.5 L1150.0 1725.0 L1170.0 1745.0 L1215.0 1770.0 L1260.0 1775.0 L1300.0 1800.0 L1320.0 1815.0 L1320.0 1830.0 L1315.0 1850.0 L1280.0 1895.0 L1280.0 1950.0 L1250.0 2010.0 L1200.0 2040.0 L1180.0 2080.0 L1150.0 2110.0 L1145.0 2130.0 L1130.0 2150.0 L1120.0 2180.0 L1100.0 2210.0 L1070.0 2220.0 L1065.0 2255.0 L1050.0 2290.0 L1060.0 2320.0 L1045.0 2365.0 L1060.0 2385.0 L1100.0 2405.0 L1060.0 2400.0 L1015.0 2380.0 L985.0 2350.0 L970.0 2300.0 L960.0 2250.0 L952.5 2200.0 L955.0 2150.0 L950.0 2100.0 L947.5 2050.0 L950.0 2000.0 L945.0 1960.0 L915.0 1935.0 L875.0 1905.0 L840.0 1850.0 L815.0 1805.0 L825.0 1795.0 L815.0 1780.0 L820.0 1740.0 L840.0 1720.0 L840.0 1680.0 L850.0 1640.0Z" fill="#dedede" stroke="#fff" stroke-width="1.6" stroke-linejoin="round"/>
<path d="M935.0 1720.0 L965.0 1715.0 L980.0 1727.5 L1005.0 1710.0 L995.0 1690.0 L1040.0 1675.0 L1045.0 1720.0 L1070.0 1715.0 L1110.0 1705.0 L1135.0 1690.0 L1150.0 1725.0 L1170.0 1745.0 L1215.0 1770.0 L1260.0 1775.0 L1300.0 1800.0 L1320.0 1815.0 L1320.0 1830.0 L1315.0 1850.0 L1280.0 1895.0 L1280.0 1950.0 L1250.0 2010.0 L1200.0 2040.0 L1180.0 2080.0 L1150.0 2110.0 L1147.5 2137.5 L1100.0 2105.0 L1125.0 2070.0 L1115.0 2050.0 L1080.0 2060.0 L1075.0 2010.0 L1080.0 1975.0 L1045.0 1960.0 L1040.0 1910.0 L985.0 1890.0 L985.0 1860.0 L950.0 1865.0 L930.0 1870.0 L900.0 1850.0 L892.5 1830.0 L900.0 1800.0 L930.0 1770.0Z" fill="#f2c046" stroke="#fff" stroke-width="1.6" stroke-linejoin="round"/>
<path d="M810.0 1795.0 L825.0 1780.0 L845.0 1750.0 L875.0 1740.0 L900.0 1760.0 L930.0 1770.0 L900.0 1800.0 L892.5 1830.0 L900.0 1850.0 L930.0 1870.0 L950.0 1880.0 L945.0 1940.0 L950.0 1955.0 L940.0 1960.0 L900.0 1930.0 L870.0 1900.0 L840.0 1850.0 L815.0 1810.0Z" fill="#e73b24" stroke="#fff" stroke-width="1.6" stroke-linejoin="round"/>
<path d="M942.5 1957.5 L980.0 2020.0 L970.0 2040.0 L975.0 2100.0 L965.0 2150.0 L970.0 2200.0 L980.0 2250.0 L995.0 2300.0 L1000.0 2350.0 L1020.0 2375.0 L1050.0 2395.0 L1100.0 2405.0 L1060.0 2400.0 L1015.0 2380.0 L985.0 2350.0 L970.0 2300.0 L960.0 2250.0 L952.5 2200.0 L955.0 2150.0 L950.0 2100.0 L947.5 2050.0 L950.0 2000.0Z" fill="#e83a24" stroke="#fff" stroke-width="1.6" stroke-linejoin="round"/>
<path d="M980.0 2020.0 L1015.0 2010.0 L1030.0 2020.0 L1080.0 2050.0 L1120.0 2060.0 L1127.5 2055.0 L1125.0 2075.0 L1100.0 2100.0 L1095.0 2130.0 L1122.5 2175.0 L1120.0 2180.0 L1100.0 2210.0 L1070.0 2220.0 L1065.0 2255.0 L1050.0 2290.0 L1060.0 2320.0 L1045.0 2365.0 L1060.0 2385.0 L1100.0 2405.0 L1050.0 2395.0 L1020.0 2375.0 L1000.0 2350.0 L995.0 2300.0 L980.0 2250.0 L970.0 2200.0 L965.0 2150.0 L975.0 2100.0 L970.0 2040.0Z" fill="#e9552b" stroke="#fff" stroke-width="1.6" stroke-linejoin="round"/>
<path d="M1650.0 1031.2 L1672.5 1030.0 L1682.5 1041.2 L1675.0 1052.5 L1672.5 1060.0 L1682.5 1062.5 L1695.0 1077.5 L1700.0 1095.0 L1715.0 1100.0 L1710.0 1115.0 L1690.0 1118.8 L1675.0 1120.0 L1650.0 1127.5 L1665.0 1112.5 L1667.5 1102.5 L1652.5 1105.0 L1662.5 1092.5 L1660.0 1077.5 L1652.5 1067.5 L1655.0 1055.0 L1647.5 1042.5Z" fill="#94b744" stroke="#fff" stroke-width="1.6" stroke-linejoin="round"/>
<path d="M1683.8 1133.8 L1705.0 1135.0 L1717.5 1117.5 L1740.0 1120.0 L1760.0 1130.0 L1775.0 1140.0 L1775.0 1155.0 L1762.5 1160.0 L1760.0 1170.0 L1767.5 1182.5 L1772.5 1197.5 L1762.5 1210.0 L1740.0 1207.5 L1727.5 1220.0 L1687.5 1212.5 L1686.2 1190.0 L1692.5 1187.5 L1685.0 1170.0 L1682.5 1157.5 L1657.5 1147.5 L1665.0 1142.5Z" fill="#88b446" stroke="#fff" stroke-width="1.6" stroke-linejoin="round"/>
<path d="M1787.5 1220.0 L1792.5 1216.2 L1795.0 1230.0 L1790.0 1231.2Z" fill="#88b446" stroke="#fff" stroke-width="1.6" stroke-linejoin="round"/>
<path d="M1757.5 1110.0 L1766.2 1100.0 L1765.0 1087.5 L1780.0 1073.8 L1797.5 1080.0 L1810.0 1077.5 L1832.5 1083.8 L1836.2 1100.0 L1840.0 1117.5 L1817.5 1125.0 L1830.0 1140.0 L1830.0 1150.0 L1815.0 1156.2 L1775.0 1156.2 L1775.0 1140.0 L1760.0 1130.0 L1760.0 1120.0Z" fill="#aab83f" stroke="#fff" stroke-width="1.6" stroke-linejoin="round"/>
<path d="M1725.0 1116.2 L1737.5 1110.0 L1752.5 1112.5 L1760.0 1127.5 L1755.0 1133.8 L1741.2 1123.8Z" fill="#c6ba3c" stroke="#fff" stroke-width="1.6" stroke-linejoin="round"/>
<path d="M1736.2 1110.0 L1745.0 1095.0 L1755.0 1090.0 L1763.8 1091.2 L1766.2 1100.0 L1757.5 1115.0 L1750.0 1112.5Z" fill="#4dab5c" stroke="#fff" stroke-width="1.6" stroke-linejoin="round"/>
<path d="M1832.5 1083.8 L1857.5 1075.0 L1882.5 1077.5 L1907.5 1076.2 L1920.0 1087.5 L1925.0 1122.5 L1915.0 1137.5 L1887.5 1133.8 L1862.5 1135.0 L1840.0 1117.5 L1836.2 1100.0Z" fill="#cfbb3e" stroke="#fff" stroke-width="1.6" stroke-linejoin="round"/>
<path d="M1882.5 1073.8 L1890.0 1068.8 L1905.0 1070.0 L1907.5 1076.2Z" fill="#f2a63c" stroke="#fff" stroke-width="1.6" stroke-linejoin="round"/>
<path d="M1610.0 1212.5 L1622.5 1205.0 L1650.0 1207.5 L1695.0 1217.5 L1730.0 1222.5 L1720.0 1235.0 L1705.0 1250.0 L1695.0 1270.0 L1680.0 1285.0 L1655.0 1287.5 L1642.5 1295.0 L1625.0 1282.5 L1630.0 1257.5 L1627.5 1227.5Z" fill="#e84224" stroke="#fff" stroke-width="1.6" stroke-linejoin="round"/>
<path d="M1725.0 1255.0 L1732.5 1251.2 L1735.0 1256.2 L1728.8 1257.5Z" fill="#e84224" stroke="#fff" stroke-width="1.6" stroke-linejoin="round"/>
<path d="M1767.5 1182.5 L1780.0 1170.0 L1807.5 1165.0 L1830.0 1172.5 L1825.0 1185.0 L1825.0 1195.0 L1842.5 1217.5 L1860.0 1227.5 L1885.0 1247.5 L1872.5 1245.0 L1870.0 1260.0 L1855.0 1282.5 L1852.5 1262.5 L1840.0 1242.5 L1820.0 1222.5 L1805.0 1210.0 L1790.0 1195.0 L1775.0 1200.0Z" fill="#f3b944" stroke="#fff" stroke-width="1.6" stroke-linejoin="round"/>
<path d="M1827.5 1275.0 L1850.0 1272.5 L1855.0 1287.5 L1837.5 1282.5Z" fill="#f3b944" stroke="#fff" stroke-width="1.6" stroke-linejoin="round"/>
<path d="M1785.0 1240.0 L1795.0 1235.0 L1797.5 1260.0 L1787.5 1260.0Z" fill="#f3b944" stroke="#fff" stroke-width="1.6" stroke-linejoin="round"/>
<path d="M1860.0 1160.0 L1870.0 1152.5 L1887.5 1150.0 L1905.0 1146.2 L1920.0 1152.5 L1907.5 1170.0 L1880.0 1177.5 L1865.0 1170.0Z" fill="#e95b2b" stroke="#fff" stroke-width="1.6" stroke-linejoin="round"/>
<path d="M1965.0 1227.5 L1985.0 1225.0 L1990.0 1237.5 L1975.0 1242.5 L1967.5 1240.0Z" fill="#f2ae3d" stroke="#fff" stroke-width="1.6" stroke-linejoin="round"/>
<path d="M1967.5 1245.0 L2000.0 1237.5 L2037.5 1227.5 L2075.0 1235.0 L2120.0 1231.2 L2137.5 1240.0 L2150.0 1252.5 L2147.5 1270.0 L2157.5 1282.5 L2100.0 1285.0 L2070.0 1290.0 L2045.0 1292.5 L2012.5 1290.0 L1987.5 1285.0 L1975.0 1265.0 L1967.5 1257.5Z" fill="#f2ae3d" stroke="#fff" stroke-width="1.6" stroke-linejoin="round"/>
<path d="M1805.0 972.5 L1817.5 962.5 L1827.5 935.0 L1840.0 922.5 L1862.5 916.2 L1885.0 922.5 L1892.5 935.0 L1897.5 950.0 L1880.0 955.0 L1865.0 975.0 L1850.0 987.5 L1847.5 1002.5 L1865.0 1017.5 L1850.0 1030.0 L1852.5 1047.5 L1840.0 1057.5 L1817.5 1065.0 L1807.5 1050.0 L1800.0 1027.5 L1805.0 1000.0Z" fill="#a6b942" stroke="#fff" stroke-width="1.6" stroke-linejoin="round"/>
<path d="M1930.0 915.0 L1950.0 910.0 L1982.5 915.0 L2025.0 930.0 L2035.0 937.5 L2035.0 945.0 L2057.5 935.0 L2055.0 922.5 L2070.0 925.0 L2075.0 937.5 L2102.5 925.0 L2130.0 922.5 L2175.0 910.0 L2200.0 910.0 L2225.0 897.5 L2250.0 880.0 L2267.5 885.0 L2275.0 912.5 L2300.0 890.0 L2307.5 870.0 L2340.0 867.5 L2337.5 860.0 L2350.0 852.5 L2395.0 846.2 L2420.0 842.5 L2435.0 833.8 L2462.5 840.0 L2490.0 841.2 L2520.0 846.2 L2530.0 855.0 L2507.5 873.8 L2537.5 867.5 L2557.5 870.0 L2595.0 873.8 L2625.0 876.2 L2630.0 868.8 L2655.0 871.2 L2680.0 878.8 L2692.5 887.5 L2722.5 897.5 L2722.5 891.2 L2770.0 888.8 L2767.5 881.2 L2800.0 880.0 L2850.0 887.5 L2895.0 897.5 L2900.0 896.6 L2912.4 895.8 L2938.8 898.1 L2954.3 902.8 L2962.1 909.0 L2977.6 909.8 L2996.3 909.0 L3018.0 911.3 L3028.9 905.9 L3044.4 905.1 L3086.3 908.2 L3117.4 912.1 L3132.9 916.8 L3195.0 930.7 L3202.8 934.6 L3213.7 937.0 L3232.3 938.5 L3264.9 947.8 L3266.5 950.9 L3255.6 952.5 L3268.0 965.7 L3210.6 950.9 L3187.3 946.3 L3198.1 957.1 L3188.8 960.2 L3174.8 961.0 L3195.0 966.5 L3223.0 978.9 L3229.2 986.6 L3212.1 983.5 L3193.5 997.5 L3188.8 1011.5 L3190.4 1012.4 L3164.0 1006.2 L3157.8 1014.0 L3146.9 1010.1 L3136.0 1014.0 L3142.2 1029.5 L3154.7 1037.3 L3164.0 1046.6 L3174.8 1054.3 L3173.3 1062.1 L3184.2 1071.4 L3176.4 1077.6 L3176.4 1083.9 L3184.2 1090.1 L3178.0 1096.3 L3184.2 1108.7 L3178.0 1113.4 L3142.2 1083.9 L3108.1 1051.2 L3105.0 1040.4 L3112.7 1031.1 L3111.2 1009.3 L3117.4 1003.1 L3111.2 994.4 L3109.6 986.6 L3098.8 983.5 L3100.3 992.9 L3094.1 1005.3 L3080.1 992.9 L3064.6 992.9 L3055.3 999.1 L3052.2 1011.5 L3061.5 1022.4 L3047.5 1024.7 L3036.6 1022.4 L3021.1 1016.1 L3008.7 1020.8 L2993.2 1020.8 L2963.7 1019.3 L2952.8 1028.6 L2946.6 1049.7 L2941.9 1073.0 L2971.4 1085.4 L2982.3 1080.0 L3011.8 1090.1 L3024.2 1107.1 L3027.3 1118.0 L3039.8 1135.1 L3046.0 1147.5 L3044.4 1170.8 L3038.2 1201.9 L3027.3 1213.5 L3008.7 1209.6 L3002.5 1214.3 L2990.1 1191.0 L2993.2 1186.3 L3007.1 1187.9 L3002.5 1156.8 L2996.3 1147.5 L2982.3 1153.7 L2965.2 1156.1 L2952.8 1142.9 L2935.7 1136.6 L2915.5 1130.4 L2900.0 1118.0 L2856.0 1095.0 L2821.0 1095.0 L2820.0 1092.5 L2830.0 1125.0 L2812.5 1130.0 L2780.0 1128.8 L2752.5 1136.2 L2725.0 1130.0 L2687.5 1126.2 L2662.5 1112.5 L2627.5 1103.8 L2622.5 1112.5 L2632.5 1125.0 L2625.0 1127.5 L2600.0 1126.2 L2575.0 1118.8 L2562.5 1120.0 L2540.0 1137.5 L2525.0 1137.5 L2500.0 1127.5 L2480.0 1117.5 L2460.0 1115.0 L2430.0 1092.5 L2407.5 1077.5 L2382.5 1086.2 L2377.5 1082.5 L2357.5 1077.5 L2350.0 1070.0 L2330.0 1065.0 L2300.0 1067.5 L2275.0 1080.0 L2265.0 1095.0 L2280.0 1115.0 L2270.0 1120.0 L2232.5 1117.5 L2220.0 1120.0 L2190.0 1110.0 L2175.0 1110.0 L2165.0 1120.0 L2157.5 1125.0 L2147.5 1130.0 L2150.0 1145.0 L2155.0 1155.0 L2175.0 1167.5 L2180.0 1180.0 L2162.5 1190.0 L2175.0 1210.0 L2185.0 1230.0 L2177.5 1232.5 L2170.0 1222.5 L2150.0 1217.5 L2125.0 1207.5 L2100.0 1205.0 L2082.5 1197.5 L2060.0 1187.5 L2072.5 1175.0 L2082.5 1155.0 L2080.0 1132.5 L2050.0 1122.5 L2025.0 1105.0 L2000.0 1102.5 L1995.0 1092.5 L1985.0 1070.0 L1955.0 1055.0 L1950.0 1040.0 L1947.5 1020.0 L1950.0 1055.0 L1947.5 1020.0 L1967.5 980.0 L1950.0 955.0 L1945.0 935.0 L1933.8 925.0Z" fill="#f2a63c" stroke="#fff" stroke-width="1.6" stroke-linejoin="round"/>
<path d="M1967.5 940.0 L1995.0 950.0 L2022.5 946.2 L2032.5 955.0 L2032.5 962.5 L2017.5 970.0 L1990.0 960.0Z" fill="#ffffff"/>
<path d="M2100.0 885.0 L2112.5 855.0 L2140.0 845.0 L2190.0 840.0 L2187.5 846.2 L2152.5 852.5 L2130.0 865.0 L2125.0 880.0 L2140.0 892.5 L2160.0 900.0 L2135.0 897.5 L2112.5 890.0Z" fill="#f2a63c"/>
<path d="M2325.0 805.0 L2350.0 807.5 L2382.5 815.0 L2390.0 821.2 L2350.0 815.0Z" fill="#f2a63c"/>
<path d="M2400.0 816.2 L2430.0 825.0 L2402.5 828.8Z" fill="#f2a63c"/>
<path d="M2705.0 850.0 L2725.0 847.5 L2757.5 852.5 L2735.0 858.8Z" fill="#f2a63c"/>
<path d="M2775.0 852.5 L2807.5 857.5 L2775.0 855.0Z" fill="#f2a63c"/>
<path d="M3013.4 1079.2 L3024.2 1087.0 L3042.9 1107.1 L3083.2 1139.8 L3070.8 1136.6 L3069.3 1147.5 L3075.5 1163.0 L3092.5 1170.8 L3086.3 1175.5 L3070.8 1155.3 L3055.3 1132.0 L3039.8 1116.5 L3018.0 1093.2Z" fill="#f2a63c"/>
<path d="M3092.5 891.9 L3101.9 891.1 L3111.2 895.8 L3097.2 896.6Z" fill="#f2a63c"/>
<path d="M2706.0 850.0 L2746.0 852.5 L2726.0 857.5Z" fill="#f2a63c"/>
<path d="M2447.5 1255.0 L2490.0 1240.0 L2500.0 1210.0 L2490.0 1190.0 L2507.5 1165.0 L2530.0 1145.0 L2540.0 1140.0 L2585.0 1167.5 L2590.0 1180.0 L2625.0 1195.0 L2660.0 1215.0 L2700.0 1217.5 L2750.0 1227.5 L2800.0 1200.0 L2825.0 1175.0 L2865.0 1170.0 L2835.0 1150.0 L2815.0 1140.0 L2830.0 1115.0 L2820.0 1095.0 L2840.0 1087.5 L2880.0 1092.5 L2925.0 1125.0 L2960.0 1150.0 L3000.0 1150.0 L3007.5 1185.0 L3000.0 1210.0 L2970.0 1240.0 L2935.0 1250.0 L2915.0 1240.0 L2895.0 1265.0 L2915.0 1275.0 L2935.0 1285.0 L2950.0 1280.0 L2935.0 1300.0 L2930.0 1330.0 L2960.0 1350.0 L2980.0 1370.0 L2985.0 1400.0 L2965.0 1430.0 L2950.0 1450.0 L2905.0 1470.0 L2880.0 1475.0 L2850.0 1465.0 L2830.0 1455.0 L2800.0 1460.0 L2785.0 1475.0 L2760.0 1430.0 L2750.0 1400.0 L2730.0 1392.5 L2710.0 1380.0 L2695.0 1382.5 L2670.0 1392.5 L2640.0 1395.0 L2632.5 1397.5 L2600.0 1387.5 L2575.0 1377.5 L2555.0 1367.5 L2537.5 1357.5 L2520.0 1342.5 L2525.0 1337.5 L2517.5 1320.0 L2500.0 1305.0 L2470.0 1290.0 L2460.0 1270.0Z" fill="#50ab5d" stroke="#fff" stroke-width="1.6" stroke-linejoin="round"/>
<path d="M2873.3 1502.7 L2879.5 1496.5 L2893.5 1493.4 L2895.8 1498.0 L2888.8 1507.3 L2883.4 1514.3 L2874.8 1510.4Z" fill="#50ab5d" stroke="#fff" stroke-width="1.6" stroke-linejoin="round"/>
<path d="M3000.0 1269.6 L3006.1 1269.6 L3013.7 1277.2 L3025.8 1286.3 L3033.4 1301.5 L3031.9 1307.6 L3019.7 1310.6 L3009.1 1313.6 L3004.6 1304.5 L3000.0 1292.4Z" fill="#ee8f36" stroke="#fff" stroke-width="1.6" stroke-linejoin="round"/>
<path d="M3091.1 1183.8 L3106.3 1193.7 L3121.5 1199.7 L3133.6 1199.7 L3142.7 1209.6 L3130.6 1223.3 L3115.4 1218.0 L3106.3 1221.0 L3106.3 1230.1 L3097.2 1219.5 L3094.2 1208.9 L3100.2 1202.8Z" fill="#ef9538" stroke="#fff" stroke-width="1.6" stroke-linejoin="round"/>
<path d="M3110.9 1236.2 L3118.5 1233.9 L3129.1 1245.3 L3138.2 1254.4 L3138.2 1268.1 L3136.7 1271.1 L3142.7 1283.3 L3144.3 1298.5 L3149.6 1301.5 L3147.3 1309.1 L3136.7 1313.6 L3132.1 1309.1 L3121.5 1313.6 L3113.9 1310.6 L3115.4 1319.7 L3112.4 1327.3 L3104.8 1324.3 L3103.3 1313.6 L3091.1 1312.1 L3075.9 1316.7 L3057.7 1319.7 L3069.9 1304.5 L3091.1 1302.2 L3101.7 1300.0 L3103.3 1286.3 L3101.7 1280.2 L3113.9 1278.7 L3121.5 1271.1 L3120.0 1255.9 L3113.9 1246.8Z" fill="#ef9538" stroke="#fff" stroke-width="1.6" stroke-linejoin="round"/>
<path d="M3077.4 1324.3 L3089.6 1319.0 L3097.2 1324.3 L3095.7 1328.8 L3085.0 1330.3 L3083.5 1336.4 L3077.4 1330.3Z" fill="#ef9538" stroke="#fff" stroke-width="1.6" stroke-linejoin="round"/>
<path d="M3050.1 1330.3 L3057.7 1324.3 L3068.3 1325.8 L3074.4 1331.9 L3072.9 1339.5 L3074.4 1353.1 L3069.9 1356.2 L3065.3 1351.6 L3057.7 1339.5 L3051.6 1334.9Z" fill="#ef9538" stroke="#fff" stroke-width="1.6" stroke-linejoin="round"/>
<path d="M2465.0 1315.0 L2502.5 1307.5 L2515.0 1320.0 L2525.0 1337.5 L2520.0 1345.0 L2545.0 1367.5 L2547.5 1385.0 L2575.0 1395.0 L2600.0 1407.5 L2637.5 1415.0 L2650.0 1440.0 L2630.0 1485.0 L2610.0 1510.0 L2590.0 1530.0 L2575.0 1550.0 L2565.0 1590.0 L2555.0 1630.0 L2545.0 1635.0 L2525.0 1605.0 L2510.0 1550.0 L2485.0 1495.0 L2475.0 1460.0 L2450.0 1455.0 L2435.0 1445.0 L2450.0 1430.0 L2440.0 1400.0 L2460.0 1390.0 L2475.0 1360.0Z" fill="#dcbb40" stroke="#fff" stroke-width="1.6" stroke-linejoin="round"/>
<path d="M2635.0 1395.0 L2645.0 1412.5 L2670.0 1410.0 L2675.0 1400.0 L2700.0 1390.0 L2710.0 1380.0 L2730.0 1392.5 L2727.5 1400.0 L2712.5 1412.5 L2707.5 1425.0 L2700.0 1452.2 L2690.0 1440.0 L2685.0 1420.0 L2645.0 1422.5 L2637.5 1415.0Z" fill="#dcbb40" stroke="#fff" stroke-width="1.6" stroke-linejoin="round"/>
<path d="M2088.8 1353.0 L2110.0 1346.2 L2122.5 1347.5 L2141.2 1357.5 L2171.2 1381.2 L2190.0 1382.5 L2201.2 1384.4 L2205.0 1389.4 L2211.2 1390.0 L2218.8 1400.0 L2232.5 1417.5 L2232.5 1422.5 L2240.0 1430.0 L2247.5 1438.8 L2262.5 1457.5 L2291.2 1462.5 L2296.2 1470.0 L2293.8 1481.0 L2283.0 1495.0 L2258.0 1505.0 L2218.0 1515.0 L2208.0 1527.5 L2168.0 1522.5 L2163.0 1535.0 L2138.0 1510.0 L2123.8 1481.0 L2120.0 1462.5 L2112.5 1447.5 L2100.0 1437.5 L2097.5 1431.2 L2073.8 1396.2 L2067.5 1393.8 L2068.8 1380.0 L2080.0 1381.9 L2087.5 1373.8 L2095.0 1371.2 L2098.8 1365.0Z" fill="#80b445" stroke="#fff" stroke-width="1.6" stroke-linejoin="round"/>
<path d="M1915.0 2045.0 L1925.0 2065.0 L1945.0 2050.0 L1975.0 2055.0 L1990.0 2030.0 L2010.0 2015.0 L2035.0 2012.5 L2042.5 2030.0 L2042.5 2065.0 L2050.0 2070.0 L2035.0 2095.0 L2010.0 2125.0 L1975.0 2150.0 L1950.0 2155.0 L1905.0 2165.0 L1890.0 2145.0 L1885.0 2090.0 L1900.0 2090.0Z" fill="#ee8533" stroke="#fff" stroke-width="1.6" stroke-linejoin="round"/>
<path d="M1987.5 2102.5 L2000.0 2090.0 L2010.0 2095.0 L2005.0 2110.0 L1995.0 2112.5Z" fill="#dedede" stroke="#fff" stroke-width="1.6" stroke-linejoin="round"/>
<path d="M2030.0 2062.5 L2037.5 2055.0 L2042.5 2065.0 L2035.0 2072.5Z" fill="#dedede" stroke="#fff" stroke-width="1.6" stroke-linejoin="round"/>
<path d="M2796.3 1659.0 L2807.1 1665.2 L2818.0 1663.7 L2827.3 1674.5 L2833.5 1693.2 L2836.6 1705.6 L2842.9 1721.1 L2833.5 1719.6 L2818.0 1705.6 L2805.6 1690.1 L2799.4 1674.5Z" fill="#f3bb45" stroke="#fff" stroke-width="1.6" stroke-linejoin="round"/>
<path d="M2903.4 1718.0 L2917.4 1705.6 L2936.0 1702.5 L2948.4 1687.0 L2960.9 1674.5 L2970.2 1662.1 L2979.5 1654.3 L2985.7 1665.2 L2998.1 1668.3 L3005.9 1674.5 L2995.0 1680.7 L2991.9 1687.0 L2970.2 1688.5 L2967.1 1693.2 L2960.9 1708.7 L2954.7 1718.0 L2945.3 1721.1 L2932.9 1718.0 L2917.4 1724.2 L2908.1 1724.2Z" fill="#f3bb45" stroke="#fff" stroke-width="1.6" stroke-linejoin="round"/>
<path d="M2895.5 2153.6 L2910.7 2131.5 L2912.1 2098.4 L2909.3 2065.3 L2905.2 2054.3 L2916.2 2043.2 L2913.5 2021.1 L2924.5 2004.6 L2932.8 2001.8 L2960.4 1992.1 L2982.5 1983.9 L3010.1 1972.8 L3021.1 1952.1 L3032.2 1941.1 L3048.7 1936.9 L3062.5 1916.2 L3073.6 1909.3 L3087.4 1910.7 L3092.9 1921.8 L3106.7 1920.4 L3109.5 1912.1 L3123.3 1888.6 L3142.6 1885.9 L3144.0 1876.2 L3161.9 1885.9 L3186.7 1888.6 L3175.7 1905.2 L3172.9 1923.1 L3186.7 1938.3 L3206.1 1949.4 L3214.3 1954.9 L3230.9 1941.1 L3239.2 1905.2 L3250.2 1873.5 L3255.7 1874.8 L3261.3 1908.0 L3272.3 1916.2 L3275.1 1921.8 L3277.8 1965.9 L3297.1 1985.2 L3302.7 2010.1 L3316.5 2021.1 L3327.5 2048.7 L3322.0 2079.1 L3302.7 2120.5 L3277.8 2142.6 L3250.2 2170.2 L3230.9 2197.8 L3208.8 2200.5 L3186.7 2211.6 L3178.5 2206.1 L3156.4 2211.6 L3134.3 2200.5 L3132.6 2189.8 L3136.3 2184.3 L3135.7 2178.6 L3129.5 2173.2 L3124.5 2173.2 L3130.7 2168.2 L3133.9 2162.1 L3130.7 2156.9 L3121.3 2167.0 L3127.0 2155.3 L3137.1 2143.4 L3137.6 2137.9 L3126.4 2148.4 L3116.5 2152.8 L3110.2 2157.8 L3106.4 2163.4 L3101.6 2162.7 L3102.8 2151.1 L3098.4 2145.3 L3099.7 2139.0 L3096.6 2131.0 L3090.4 2130.4 L3073.0 2123.0 L3048.7 2126.0 L3015.6 2134.3 L2993.5 2139.8 L2982.5 2150.9 L2946.6 2153.6 L2916.2 2164.7 L2902.4 2161.9Z" fill="#8eb446" stroke="#fff" stroke-width="1.6" stroke-linejoin="round"/>
<path d="M3153.5 2239.8 L3172.5 2241.5 L3188.0 2241.5 L3181.1 2250.1 L3169.0 2260.5 L3151.8 2270.0 L3147.5 2262.2 L3151.8 2248.4Z" fill="#8eb446" stroke="#fff" stroke-width="1.6" stroke-linejoin="round"/>
<path d="M14.0 1490.0 L24.0 1484.0 L26.0 1494.0 L16.0 1498.0Z" fill="#bfba40"/>
<path d="M1523.0 1390.0 L1528.0 1387.5 L1530.5 1392.5 L1525.5 1394.0Z" fill="#e84224"/>
<path d="M1535.5 1390.0 L1540.5 1388.0 L1542.0 1393.0 L1537.0 1395.0Z" fill="#e84224"/>
<path d="M1548.0 1385.0 L1554.0 1383.0 L1556.0 1388.0 L1550.0 1390.0Z" fill="#e84224"/></g>
<g transform="translate(1684.2 567.8) scale(1 1.045)"><text x="0" y="0" font-size="72.5" fill="#7f7f7f"><tspan font-weight="bold">NL</tspan> 87%</text></g>
<g transform="translate(1455.2 667.5) scale(1 1.045)"><text x="0" y="0" font-size="72.5" fill="#7f7f7f"><tspan font-weight="bold">BE</tspan> 71%</text></g>
<g transform="translate(1871.9 699.0) scale(1 1.045)"><text x="0" y="0" font-size="72.5" fill="#7f7f7f"><tspan font-weight="bold">SE</tspan> 74%</text></g>
<g transform="translate(2022.7 785.0) scale(1 1.045)"><text x="0" y="0" font-size="72.5" fill="#7f7f7f"><tspan font-weight="bold">PL</tspan> 68%</text></g>
<g transform="translate(1243.0 1092.5) scale(1 1.045)"><text x="0" y="0" font-size="72.5" fill="#7f7f7f"><tspan font-weight="bold">GB</tspan> 76%</text></g>
<g transform="translate(1247.7 1211.0) scale(1 1.045)"><text x="0" y="0" font-size="72.5" fill="#7f7f7f"><tspan font-weight="bold">FR</tspan> 78%</text></g>
<g transform="translate(1146.7 1348.5) scale(1 1.045)"><text x="0" y="0" font-size="72.5" fill="#7f7f7f"><tspan font-weight="bold">ES</tspan> 38%</text></g>
<g transform="translate(1120.2 1493.5) scale(1 1.045)"><text x="0" y="0" font-size="72.5" fill="#7f7f7f"><tspan font-weight="bold">DE</tspan> 73%</text></g>
<g transform="translate(1205.2 1638.5) scale(1 1.045)"><text x="0" y="0" font-size="72.5" fill="#7f7f7f"><tspan font-weight="bold">IT</tspan> 62%</text></g>
<g transform="translate(1393.7 1767.5) scale(1 1.045)"><text x="0" y="0" font-size="72.5" fill="#7f7f7f"><tspan font-weight="bold">HU</tspan> 45%</text></g>
<g transform="translate(1524.2 1883.5) scale(1 1.045)"><text x="0" y="0" font-size="72.5" fill="#7f7f7f"><tspan font-weight="bold">TR</tspan> 59%</text></g>
<g transform="translate(2201.9 1855.0) scale(1 1.045)"><text x="0" y="0" font-size="72.5" fill="#7f7f7f"><tspan font-weight="bold">SA</tspan> 80%</text></g>
<g transform="translate(2351.7 1726.5) scale(1 1.045)"><text x="0" y="0" font-size="72.5" fill="#7f7f7f"><tspan font-weight="bold">IN</tspan> 66%</text></g>
<g transform="translate(1817.8 2269.0) scale(1 1.045)"><text x="0" y="0" font-size="72.5" fill="#7f7f7f"><tspan font-weight="bold">ZA</tspan> 52%</text></g>
<g transform="translate(2603.9 1920.0) scale(1 1.045)"><text x="0" y="0" font-size="72.5" fill="#7f7f7f"><tspan font-weight="bold">MY</tspan> 62%</text></g>
<g transform="translate(3254.9 1320.0) scale(1 1.045)"><text x="0" y="0" font-size="72.5" fill="#7f7f7f"><tspan font-weight="bold">JP</tspan> 55%</text></g>
<g transform="translate(3014.2 1493.5) scale(1 1.045)"><text x="0" y="0" font-size="72.5" fill="#7f7f7f"><tspan font-weight="bold">KR</tspan> 54%</text></g>
<g transform="translate(206.2 1586.0) scale(1 1.045)"><text x="0" y="0" font-size="72.5" fill="#7f7f7f"><tspan font-weight="bold">MX</tspan> 46%</text></g>
<g transform="translate(401.2 1920.0) scale(1 1.045)"><text x="0" y="0" font-size="72.5" fill="#7f7f7f"><tspan font-weight="bold">PE</tspan> 32%</text></g>
<g transform="translate(440.5 2241.0) scale(1 1.045)"><text x="0" y="0" font-size="72.5" fill="#7f7f7f"><tspan font-weight="bold">CL</tspan> 35%</text></g>
<g transform="translate(1176.7 2327.5) scale(1 1.045)"><text x="0" y="0" font-size="72.5" fill="#7f7f7f"><tspan font-weight="bold">AR</tspan> 43%</text></g>
<g transform="translate(564.5 1064.0) scale(1 1.045)"><text x="0" y="0" font-size="72.5" fill="#ffffff"><tspan font-weight="bold">CA</tspan> 78%</text></g>
<g transform="translate(544.1 1276.0) scale(1 1.045)"><text x="0" y="0" font-size="72.5" fill="#ffffff"><tspan font-weight="bold">US</tspan> 70%</text></g>
<g transform="translate(1012.7 1854.0) scale(1 1.045)"><text x="0" y="0" font-size="72.5" fill="#ffffff"><tspan font-weight="bold">BR</tspan> 63%</text></g>
<g transform="translate(2409.7 1025.5) scale(1 1.045)"><text x="0" y="0" font-size="72.5" fill="#ffffff"><tspan font-weight="bold">RU</tspan> 58%</text></g>
<g transform="translate(2600.5 1335.0) scale(1 1.045)"><text x="0" y="0" font-size="72.5" fill="#ffffff"><tspan font-weight="bold">CN</tspan> 93%</text></g>
<g transform="translate(2982.2 2073.0) scale(1 1.045)"><text x="0" y="0" font-size="72.5" fill="#ffffff"><tspan font-weight="bold">AU</tspan> 77%</text></g>
<line x1="1809.0" y1="607.5" x2="1748.5" y2="1102.5" stroke="#808080" stroke-width="4.2" stroke-linecap="round"/>
<line x1="1602.5" y1="706.5" x2="1743.5" y2="1120.0" stroke="#808080" stroke-width="4.2" stroke-linecap="round"/>
<line x1="1986.5" y1="715.0" x2="1835.0" y2="980.0" stroke="#808080" stroke-width="4.2" stroke-linecap="round"/>
<line x1="2145.0" y1="803.5" x2="1882.5" y2="1104.0" stroke="#808080" stroke-width="4.2" stroke-linecap="round"/>
<line x1="1545.0" y1="1066.0" x2="1689.0" y2="1096.0" stroke="#808080" stroke-width="4.2" stroke-linecap="round"/>
<line x1="1546.0" y1="1185.0" x2="1725.0" y2="1171.0" stroke="#808080" stroke-width="4.2" stroke-linecap="round"/>
<line x1="1445.0" y1="1323.5" x2="1671.0" y2="1244.0" stroke="#808080" stroke-width="4.2" stroke-linecap="round"/>
<line x1="1420.0" y1="1468.5" x2="1807.5" y2="1141.0" stroke="#808080" stroke-width="4.2" stroke-linecap="round"/>
<line x1="1487.5" y1="1612.5" x2="1825.0" y2="1215.0" stroke="#808080" stroke-width="4.2" stroke-linecap="round"/>
<line x1="1556.0" y1="1700.0" x2="1892.5" y2="1162.5" stroke="#808080" stroke-width="4.2" stroke-linecap="round"/>
<line x1="1675.0" y1="1798.5" x2="2057.5" y2="1261.0" stroke="#808080" stroke-width="4.2" stroke-linecap="round"/>
<line x1="2177.5" y1="1452.5" x2="2304.0" y2="1772.5" stroke="#808080" stroke-width="4.2" stroke-linecap="round"/>
<line x1="1940.0" y1="2126.5" x2="1940.0" y2="2197.5" stroke="#808080" stroke-width="4.2" stroke-linecap="round"/>
<line x1="3123.5" y1="1294.0" x2="3226.0" y2="1294.0" stroke="#808080" stroke-width="4.2" stroke-linecap="round"/>
<line x1="3015.0" y1="1293.5" x2="3058.5" y2="1420.0" stroke="#808080" stroke-width="4.2" stroke-linecap="round"/>
<line x1="2532.5" y1="1469.0" x2="2471.0" y2="1650.0" stroke="#808080" stroke-width="4.2" stroke-linecap="round"/>
<line x1="2741.2" y1="1841.2" x2="2819.5" y2="1688.8" stroke="#808080" stroke-width="4.2" stroke-linecap="round"/>
<line x1="2741.2" y1="1841.2" x2="2943.8" y2="1708.0" stroke="#808080" stroke-width="4.2" stroke-linecap="round"/>
<line x1="511.0" y1="1559.0" x2="606.0" y2="1461.0" stroke="#808080" stroke-width="4.2" stroke-linecap="round"/>
<line x1="698.5" y1="1893.5" x2="877.5" y2="1855.0" stroke="#808080" stroke-width="4.2" stroke-linecap="round"/>
<line x1="736.5" y1="2216.0" x2="963.5" y2="2171.0" stroke="#808080" stroke-width="4.2" stroke-linecap="round"/>
<line x1="1028.5" y1="2136.5" x2="1292.5" y2="2260.0" stroke="#808080" stroke-width="4.2" stroke-linecap="round"/>
<g transform="translate(207.8 350.0) scale(1 1.040)"><text x="0" y="0" font-size="200.00" fill="#000" font-weight="bold">What percentage of people say they are happy?</text></g>
<g transform="translate(3771.9 754.0) scale(1 1.040)"><text x="0" y="0" font-size="100.00" fill="#000" font-weight="bold">Change since 2019</text></g>
<g transform="translate(3773.9 932.5) scale(1 1.045)"><text x="0" y="0" font-size="83.30" fill="#4d4d4d" font-weight="bold">Where happiness</text></g>
<g transform="translate(3771.7 1032.5) scale(1 1.045)"><text x="0" y="0" font-size="83.30" fill="#4d4d4d" font-weight="bold">has increased</text></g>
<rect x="3778" y="1081" width="1051" height="3.2" fill="#808080"/>
<g transform="translate(3771.8 1192.5) scale(1 1.045)"><text x="0" y="0" font-size="83.30" fill="#808080">China</text></g>
<g transform="translate(4381.6 1192.5) scale(1 1.045)"><text x="0" y="0" font-size="83.30" fill="#808080">Turkey</text></g>
<g transform="translate(3768.3 1290.7) scale(1 1.045)"><text x="0" y="0" font-size="83.30" fill="#808080">Italy</text></g>
<g transform="translate(4383.3 1290.7) scale(1 1.045)"><text x="0" y="0" font-size="83.30" fill="#808080">Argentina</text></g>
<g transform="translate(3769.2 1388.9) scale(1 1.045)"><text x="0" y="0" font-size="83.30" fill="#808080">Malaysia</text></g>
<g transform="translate(3773.9 1567.3) scale(1 1.045)"><text x="0" y="0" font-size="83.30" fill="#4d4d4d" font-weight="bold">Where happiness</text></g>
<g transform="translate(3771.7 1667.4) scale(1 1.045)"><text x="0" y="0" font-size="83.30" fill="#4d4d4d" font-weight="bold">has decreased</text></g>
<rect x="3778" y="1715.5" width="1051" height="3.2" fill="#808080"/>
<g transform="translate(3771.8 1826.0) scale(1 1.045)"><text x="0" y="0" font-size="83.30" fill="#808080">Canada</text></g>
<g transform="translate(4379.7 1826.0) scale(1 1.045)"><text x="0" y="0" font-size="83.30" fill="#808080">South Africa</text></g>
<g transform="translate(3775.8 1924.3) scale(1 1.045)"><text x="0" y="0" font-size="83.30" fill="#808080">Australia</text></g>
<g transform="translate(4376.7 1924.3) scale(1 1.045)"><text x="0" y="0" font-size="83.30" fill="#808080">Mexico</text></g>
<g transform="translate(3771.8 2022.6) scale(1 1.045)"><text x="0" y="0" font-size="83.30" fill="#808080">Great Britain</text></g>
<g transform="translate(4376.7 2022.6) scale(1 1.045)"><text x="0" y="0" font-size="83.30" fill="#808080">Hungary</text></g>
<g transform="translate(3771.8 2120.9) scale(1 1.045)"><text x="0" y="0" font-size="83.30" fill="#808080">Germany</text></g>
<g transform="translate(4379.7 2120.9) scale(1 1.045)"><text x="0" y="0" font-size="83.30" fill="#808080">Spain</text></g>
<g transform="translate(3769.6 2219.2) scale(1 1.045)"><text x="0" y="0" font-size="83.30" fill="#808080">United States</text></g>
<g transform="translate(4379.3 2219.2) scale(1 1.045)"><text x="0" y="0" font-size="83.30" fill="#808080">Chile</text></g>
<g transform="translate(3768.3 2317.5) scale(1 1.045)"><text x="0" y="0" font-size="83.30" fill="#808080">India</text></g>
<g transform="translate(4376.7 2317.5) scale(1 1.045)"><text x="0" y="0" font-size="83.30" fill="#808080">Peru</text></g>
<defs><linearGradient id="lg" x1="0" x2="1"><stop offset="0" stop-color="#4fad5b"/><stop offset="0.5" stop-color="#f1c040"/><stop offset="1" stop-color="#e83427"/></linearGradient></defs>
<rect x="210" y="2679" width="911.5" height="31" fill="url(#lg)"/>
<g transform="translate(207.2 2634.0) scale(1 1.045)"><text x="0" y="0" font-size="83.30" fill="#000">High</text></g>
<g transform="translate(967.2 2634.0) scale(1 1.045)"><text x="0" y="0" font-size="83.30" fill="#000">Low</text></g>
<rect x="1192.5" y="2571.5" width="3" height="139" fill="#a6a6a6"/>
<g transform="translate(1250.9 2682.0) scale(1 1.045)"><text x="0" y="0" font-size="62.40" fill="#000" font-weight="bold">% saying they are very happy or rather happy</text></g>
<g transform="translate(2881.3 2685.0) scale(1 1.045)"><text x="0" y="0" font-size="62.30" fill="#4d4d4d">19,516 adults polled in 27 countries from July 24 to Aug. 7, 2020</text></g>
<g id="logo"><path d="M4733 2595 H4885.5 C4890 2625 4890.5 2660 4887 2690 C4884 2710 4878 2722 4870.4 2736.5 H4733 Z" fill="#33468f"/>
<path d="M4814.7 2595 H4885.5 C4890 2625 4890.5 2660 4887 2690 C4884 2710 4878 2722 4870.4 2736.5 H4799.6 C4806 2715 4815 2690 4817.5 2661 C4818.5 2630 4817 2610 4814.7 2595 Z" fill="#45999a"/>
<path d="M4816 2607 C4800 2607 4785 2620 4784 2640 C4784 2658 4794 2670 4806 2674 L4808 2680 L4793 2681.5 L4816.5 2681.5 Z" fill="#45999a"/>
<path d="M4815.5 2607 C4830 2607 4840 2615 4841 2628 C4841 2636 4843 2641 4844 2644 L4841 2646 C4842 2650 4840 2652 4839 2655 C4838 2660 4836 2663 4830 2664 L4826 2665 C4825 2672 4830 2679 4840 2681.5 L4815.5 2681.5 Z" fill="#33468f"/>
<g transform="translate(4749.5 2713) scale(1 1.08)"><text x="0" y="0" font-size="45.5" fill="#fff" font-weight="bold">Ipsos</text></g></g>
</svg></body></html>
